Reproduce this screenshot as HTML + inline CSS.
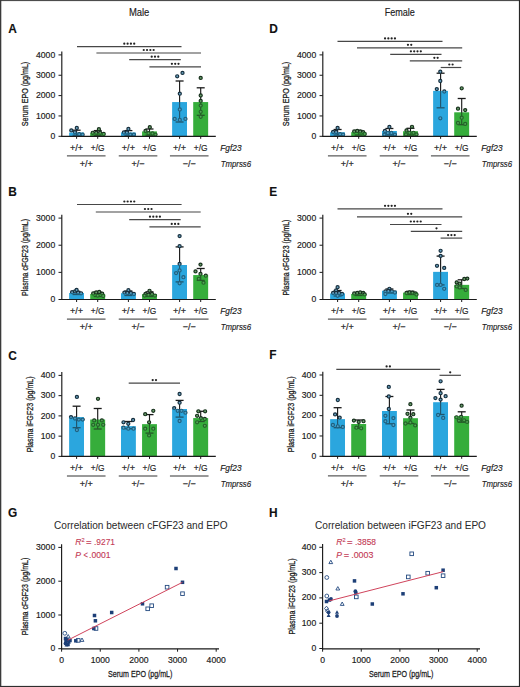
<!DOCTYPE html>
<html><head><meta charset="utf-8"><title>Figure</title>
<style>
html,body{margin:0;padding:0;background:#fff;}
body{width:520px;height:687px;overflow:hidden;}
svg{display:block;font-family:"Liberation Sans",sans-serif;}
</style></head>
<body>
<svg width="520" height="687" viewBox="0 0 520 687">
<rect x="0" y="0" width="520" height="687" fill="#fff"/>
<text x="8.2" y="32.6" font-size="11.9" fill="#111" stroke="#111" stroke-width="0.1" font-weight="bold">A</text>
<rect x="69.2" y="132.6" width="14.8" height="3.7" fill="#2ba6de"/>
<rect x="90.3" y="133" width="14.8" height="3.3" fill="#36ad3c"/>
<rect x="121" y="132.6" width="14.8" height="3.7" fill="#2ba6de"/>
<rect x="142.1" y="131.5" width="14.8" height="4.8" fill="#36ad3c"/>
<rect x="172.2" y="102.1" width="14.8" height="34.2" fill="#2ba6de"/>
<rect x="193.3" y="102.1" width="14.8" height="34.2" fill="#36ad3c"/>
<line x1="76.6" y1="130.2" x2="76.6" y2="135.2" stroke="#1a1a1a" stroke-width="1.15"/>
<line x1="72.6" y1="130.2" x2="80.6" y2="130.2" stroke="#1a1a1a" stroke-width="1.3"/>
<line x1="72.6" y1="135.2" x2="80.6" y2="135.2" stroke="#1a1a1a" stroke-width="1.3"/>
<circle cx="71.3" cy="130.4" r="1.55" fill="#6aa2c0" stroke="#172f3e" stroke-width="1.2"/>
<circle cx="76.8" cy="128" r="1.55" fill="#6aa2c0" stroke="#172f3e" stroke-width="1.2"/>
<circle cx="74.9" cy="132.3" r="1.55" fill="#6aa2c0" stroke="#172f3e" stroke-width="1.2"/>
<circle cx="79.2" cy="134.2" r="1.55" fill="#6aa2c0" stroke="#172f3e" stroke-width="1.2"/>
<circle cx="82.6" cy="134.7" r="1.55" fill="#6aa2c0" stroke="#172f3e" stroke-width="1.2"/>
<line x1="97.7" y1="130.6" x2="97.7" y2="135.4" stroke="#1a1a1a" stroke-width="1.15"/>
<line x1="93.7" y1="130.6" x2="101.7" y2="130.6" stroke="#1a1a1a" stroke-width="1.3"/>
<line x1="93.7" y1="135.4" x2="101.7" y2="135.4" stroke="#1a1a1a" stroke-width="1.3"/>
<circle cx="98.9" cy="129.2" r="1.55" fill="#6aa06c" stroke="#17301c" stroke-width="1.2"/>
<circle cx="92.7" cy="132.8" r="1.55" fill="#6aa06c" stroke="#17301c" stroke-width="1.2"/>
<circle cx="96.2" cy="132.8" r="1.55" fill="#6aa06c" stroke="#17301c" stroke-width="1.2"/>
<circle cx="100.2" cy="132.8" r="1.55" fill="#6aa06c" stroke="#17301c" stroke-width="1.2"/>
<circle cx="103.7" cy="134" r="1.55" fill="#6aa06c" stroke="#17301c" stroke-width="1.2"/>
<line x1="128.4" y1="130.6" x2="128.4" y2="135.2" stroke="#1a1a1a" stroke-width="1.15"/>
<line x1="124.4" y1="130.6" x2="132.4" y2="130.6" stroke="#1a1a1a" stroke-width="1.3"/>
<line x1="124.4" y1="135.2" x2="132.4" y2="135.2" stroke="#1a1a1a" stroke-width="1.3"/>
<circle cx="128.4" cy="129" r="1.55" fill="#6aa2c0" stroke="#172f3e" stroke-width="1.2"/>
<circle cx="123.9" cy="132.5" r="1.55" fill="#6aa2c0" stroke="#172f3e" stroke-width="1.2"/>
<circle cx="126.9" cy="132.5" r="1.55" fill="#6aa2c0" stroke="#172f3e" stroke-width="1.2"/>
<circle cx="130.4" cy="134.6" r="1.55" fill="#6aa2c0" stroke="#172f3e" stroke-width="1.2"/>
<circle cx="133.9" cy="134.6" r="1.55" fill="#6aa2c0" stroke="#172f3e" stroke-width="1.2"/>
<line x1="149.5" y1="129" x2="149.5" y2="135.2" stroke="#1a1a1a" stroke-width="1.15"/>
<line x1="145.5" y1="129" x2="153.5" y2="129" stroke="#1a1a1a" stroke-width="1.3"/>
<line x1="145.5" y1="135.2" x2="153.5" y2="135.2" stroke="#1a1a1a" stroke-width="1.3"/>
<circle cx="149.8" cy="127.2" r="1.55" fill="#6aa06c" stroke="#17301c" stroke-width="1.2"/>
<circle cx="145.5" cy="131" r="1.55" fill="#6aa06c" stroke="#17301c" stroke-width="1.2"/>
<circle cx="148.5" cy="133.2" r="1.55" fill="#6aa06c" stroke="#17301c" stroke-width="1.2"/>
<circle cx="152.5" cy="133.5" r="1.55" fill="#6aa06c" stroke="#17301c" stroke-width="1.2"/>
<circle cx="155.5" cy="134.6" r="1.55" fill="#6aa06c" stroke="#17301c" stroke-width="1.2"/>
<line x1="179.6" y1="81" x2="179.6" y2="122" stroke="#1a1a1a" stroke-width="1.15"/>
<line x1="175.6" y1="81" x2="183.6" y2="81" stroke="#1a1a1a" stroke-width="1.3"/>
<line x1="175.6" y1="122" x2="183.6" y2="122" stroke="#1a1a1a" stroke-width="1.3"/>
<circle cx="177.2" cy="76.3" r="1.55" fill="#6aa2c0" stroke="#172f3e" stroke-width="1.2"/>
<circle cx="182.5" cy="72.9" r="1.55" fill="#6aa2c0" stroke="#172f3e" stroke-width="1.2"/>
<circle cx="179.8" cy="93.7" r="1.55" fill="#6aa2c0" stroke="#172f3e" stroke-width="1.2"/>
<circle cx="179.8" cy="109.5" r="1.55" fill="#6aa2c0" stroke="#172f3e" stroke-width="1.2"/>
<circle cx="174.7" cy="118.9" r="1.55" fill="#6aa2c0" stroke="#172f3e" stroke-width="1.2"/>
<circle cx="179.8" cy="119.9" r="1.55" fill="#6aa2c0" stroke="#172f3e" stroke-width="1.2"/>
<circle cx="185.4" cy="118.9" r="1.55" fill="#6aa2c0" stroke="#172f3e" stroke-width="1.2"/>
<line x1="200.7" y1="87.8" x2="200.7" y2="115.3" stroke="#1a1a1a" stroke-width="1.15"/>
<line x1="196.7" y1="87.8" x2="204.7" y2="87.8" stroke="#1a1a1a" stroke-width="1.3"/>
<line x1="196.7" y1="115.3" x2="204.7" y2="115.3" stroke="#1a1a1a" stroke-width="1.3"/>
<circle cx="200.7" cy="77.9" r="1.55" fill="#6aa06c" stroke="#17301c" stroke-width="1.2"/>
<circle cx="200.7" cy="95.5" r="1.55" fill="#6aa06c" stroke="#17301c" stroke-width="1.2"/>
<circle cx="200.7" cy="101" r="1.55" fill="#6aa06c" stroke="#17301c" stroke-width="1.2"/>
<circle cx="200.7" cy="105.6" r="1.55" fill="#6aa06c" stroke="#17301c" stroke-width="1.2"/>
<circle cx="200.7" cy="111.8" r="1.55" fill="#6aa06c" stroke="#17301c" stroke-width="1.2"/>
<circle cx="200.7" cy="116.8" r="1.55" fill="#6aa06c" stroke="#17301c" stroke-width="1.2"/>
<rect x="69.2" y="132.6" width="14.8" height="3.7" fill="#2ba6de" fill-opacity="0.42"/>
<rect x="90.3" y="133" width="14.8" height="3.3" fill="#36ad3c" fill-opacity="0.42"/>
<rect x="121" y="132.6" width="14.8" height="3.7" fill="#2ba6de" fill-opacity="0.42"/>
<rect x="142.1" y="131.5" width="14.8" height="4.8" fill="#36ad3c" fill-opacity="0.42"/>
<rect x="172.2" y="102.1" width="14.8" height="34.2" fill="#2ba6de" fill-opacity="0.42"/>
<rect x="193.3" y="102.1" width="14.8" height="34.2" fill="#36ad3c" fill-opacity="0.42"/>
<line x1="61.8" y1="51.6" x2="61.8" y2="136.8" stroke="#1a1a1a" stroke-width="1.15"/>
<line x1="61.3" y1="136.3" x2="215.8" y2="136.3" stroke="#1a1a1a" stroke-width="1.15"/>
<line x1="58.5" y1="136.3" x2="61.8" y2="136.3" stroke="#1a1a1a" stroke-width="1"/>
<text x="55.2" y="139.1" font-size="8.2" fill="#1c1c1c" stroke="#1c1c1c" stroke-width="0.16" text-anchor="end" textLength="4.8" lengthAdjust="spacingAndGlyphs">0</text>
<line x1="58.5" y1="115.95" x2="61.8" y2="115.95" stroke="#1a1a1a" stroke-width="1"/>
<text x="55.2" y="118.75" font-size="8.2" fill="#1c1c1c" stroke="#1c1c1c" stroke-width="0.16" text-anchor="end" textLength="19.2" lengthAdjust="spacingAndGlyphs">1000</text>
<line x1="58.5" y1="95.6" x2="61.8" y2="95.6" stroke="#1a1a1a" stroke-width="1"/>
<text x="55.2" y="98.4" font-size="8.2" fill="#1c1c1c" stroke="#1c1c1c" stroke-width="0.16" text-anchor="end" textLength="19.2" lengthAdjust="spacingAndGlyphs">2000</text>
<line x1="58.5" y1="75.25" x2="61.8" y2="75.25" stroke="#1a1a1a" stroke-width="1"/>
<text x="55.2" y="78.05" font-size="8.2" fill="#1c1c1c" stroke="#1c1c1c" stroke-width="0.16" text-anchor="end" textLength="19.2" lengthAdjust="spacingAndGlyphs">3000</text>
<line x1="58.5" y1="54.9" x2="61.8" y2="54.9" stroke="#1a1a1a" stroke-width="1"/>
<text x="55.2" y="57.7" font-size="8.2" fill="#1c1c1c" stroke="#1c1c1c" stroke-width="0.16" text-anchor="end" textLength="19.2" lengthAdjust="spacingAndGlyphs">4000</text>
<line x1="76.6" y1="136.3" x2="76.6" y2="138.8" stroke="#1a1a1a" stroke-width="1"/>
<line x1="97.7" y1="136.3" x2="97.7" y2="138.8" stroke="#1a1a1a" stroke-width="1"/>
<line x1="128.4" y1="136.3" x2="128.4" y2="138.8" stroke="#1a1a1a" stroke-width="1"/>
<line x1="149.5" y1="136.3" x2="149.5" y2="138.8" stroke="#1a1a1a" stroke-width="1"/>
<line x1="179.6" y1="136.3" x2="179.6" y2="138.8" stroke="#1a1a1a" stroke-width="1"/>
<line x1="200.7" y1="136.3" x2="200.7" y2="138.8" stroke="#1a1a1a" stroke-width="1"/>
<text x="28.2" y="94" font-size="9" fill="#1c1c1c" stroke="#1c1c1c" stroke-width="0.28" text-anchor="middle" textLength="64.5" lengthAdjust="spacingAndGlyphs" transform="rotate(-90 28.2 94)">Serum EPO (pg/mL)</text>
<text x="76.6" y="150.6" font-size="9.2" fill="#1c1c1c" stroke="#1c1c1c" stroke-width="0.16" text-anchor="middle" textLength="13.2" lengthAdjust="spacingAndGlyphs">+/+</text>
<text x="97.7" y="150.6" font-size="9.2" fill="#1c1c1c" stroke="#1c1c1c" stroke-width="0.16" text-anchor="middle" textLength="13.8" lengthAdjust="spacingAndGlyphs">+/G</text>
<text x="128.4" y="150.6" font-size="9.2" fill="#1c1c1c" stroke="#1c1c1c" stroke-width="0.16" text-anchor="middle" textLength="13.2" lengthAdjust="spacingAndGlyphs">+/+</text>
<text x="149.5" y="150.6" font-size="9.2" fill="#1c1c1c" stroke="#1c1c1c" stroke-width="0.16" text-anchor="middle" textLength="13.8" lengthAdjust="spacingAndGlyphs">+/G</text>
<text x="179.6" y="150.6" font-size="9.2" fill="#1c1c1c" stroke="#1c1c1c" stroke-width="0.16" text-anchor="middle" textLength="13.2" lengthAdjust="spacingAndGlyphs">+/+</text>
<text x="200.7" y="150.6" font-size="9.2" fill="#1c1c1c" stroke="#1c1c1c" stroke-width="0.16" text-anchor="middle" textLength="13.8" lengthAdjust="spacingAndGlyphs">+/G</text>
<text x="220.3" y="150.6" font-size="8.8" fill="#1c1c1c" stroke="#1c1c1c" stroke-width="0.16" font-style="italic" textLength="21.2" lengthAdjust="spacingAndGlyphs">Fgf23</text>
<line x1="66.95" y1="155.9" x2="105.55" y2="155.9" stroke="#333" stroke-width="1"/>
<line x1="118.75" y1="155.9" x2="157.35" y2="155.9" stroke="#333" stroke-width="1"/>
<line x1="169.95" y1="155.9" x2="208.55" y2="155.9" stroke="#333" stroke-width="1"/>
<text x="86.25" y="166.6" font-size="9.2" fill="#1c1c1c" stroke="#1c1c1c" stroke-width="0.16" text-anchor="middle" textLength="13.2" lengthAdjust="spacingAndGlyphs">+/+</text>
<text x="138.05" y="166.6" font-size="9.2" fill="#1c1c1c" stroke="#1c1c1c" stroke-width="0.16" text-anchor="middle" textLength="13.2" lengthAdjust="spacingAndGlyphs">+/−</text>
<text x="189.25" y="166.6" font-size="9.2" fill="#1c1c1c" stroke="#1c1c1c" stroke-width="0.16" text-anchor="middle" textLength="13.2" lengthAdjust="spacingAndGlyphs">−/−</text>
<text x="220.7" y="166.6" font-size="8.8" fill="#1c1c1c" stroke="#1c1c1c" stroke-width="0.16" font-style="italic" textLength="30.4" lengthAdjust="spacingAndGlyphs">Tmprss6</text>
<line x1="77" y1="46.7" x2="181.5" y2="46.7" stroke="#474747" stroke-width="1.2"/>
<circle cx="124.3" cy="43.7" r="1.12" fill="#222"/>
<circle cx="127.6" cy="43.7" r="1.12" fill="#222"/>
<circle cx="130.9" cy="43.7" r="1.12" fill="#222"/>
<circle cx="134.2" cy="43.7" r="1.12" fill="#222"/>
<line x1="96.4" y1="53" x2="201" y2="53" stroke="#474747" stroke-width="1.2"/>
<circle cx="143.75" cy="50" r="1.12" fill="#222"/>
<circle cx="147.05" cy="50" r="1.12" fill="#222"/>
<circle cx="150.35" cy="50" r="1.12" fill="#222"/>
<circle cx="153.65" cy="50" r="1.12" fill="#222"/>
<line x1="129.2" y1="59.7" x2="180.8" y2="59.7" stroke="#474747" stroke-width="1.2"/>
<circle cx="151.7" cy="56.7" r="1.12" fill="#222"/>
<circle cx="155" cy="56.7" r="1.12" fill="#222"/>
<circle cx="158.3" cy="56.7" r="1.12" fill="#222"/>
<line x1="149.4" y1="66.8" x2="201" y2="66.8" stroke="#474747" stroke-width="1.2"/>
<circle cx="171.9" cy="63.8" r="1.12" fill="#222"/>
<circle cx="175.2" cy="63.8" r="1.12" fill="#222"/>
<circle cx="178.5" cy="63.8" r="1.12" fill="#222"/>
<text x="269.2" y="32.6" font-size="11.9" fill="#111" stroke="#111" stroke-width="0.1" font-weight="bold">D</text>
<rect x="330.2" y="132.4" width="14.8" height="3.9" fill="#2ba6de"/>
<rect x="351.3" y="132.2" width="14.8" height="4.1" fill="#36ad3c"/>
<rect x="382" y="131" width="14.8" height="5.3" fill="#2ba6de"/>
<rect x="403.1" y="131.3" width="14.8" height="5" fill="#36ad3c"/>
<rect x="433.2" y="90.9" width="14.8" height="45.4" fill="#2ba6de"/>
<rect x="454.3" y="112.4" width="14.8" height="23.9" fill="#36ad3c"/>
<line x1="337.6" y1="129.5" x2="337.6" y2="135" stroke="#1a1a1a" stroke-width="1.15"/>
<line x1="333.6" y1="129.5" x2="341.6" y2="129.5" stroke="#1a1a1a" stroke-width="1.3"/>
<line x1="333.6" y1="135" x2="341.6" y2="135" stroke="#1a1a1a" stroke-width="1.3"/>
<circle cx="337.6" cy="128" r="1.55" fill="#6aa2c0" stroke="#172f3e" stroke-width="1.2"/>
<circle cx="333.1" cy="132" r="1.55" fill="#6aa2c0" stroke="#172f3e" stroke-width="1.2"/>
<circle cx="336.1" cy="132" r="1.55" fill="#6aa2c0" stroke="#172f3e" stroke-width="1.2"/>
<circle cx="340.1" cy="134.2" r="1.55" fill="#6aa2c0" stroke="#172f3e" stroke-width="1.2"/>
<circle cx="343.1" cy="134.6" r="1.55" fill="#6aa2c0" stroke="#172f3e" stroke-width="1.2"/>
<line x1="358.7" y1="130.5" x2="358.7" y2="135" stroke="#1a1a1a" stroke-width="1.15"/>
<line x1="354.7" y1="130.5" x2="362.7" y2="130.5" stroke="#1a1a1a" stroke-width="1.3"/>
<line x1="354.7" y1="135" x2="362.7" y2="135" stroke="#1a1a1a" stroke-width="1.3"/>
<circle cx="354.2" cy="131.5" r="1.55" fill="#6aa06c" stroke="#17301c" stroke-width="1.2"/>
<circle cx="357.2" cy="131" r="1.55" fill="#6aa06c" stroke="#17301c" stroke-width="1.2"/>
<circle cx="360.2" cy="131.5" r="1.55" fill="#6aa06c" stroke="#17301c" stroke-width="1.2"/>
<circle cx="363.2" cy="132.2" r="1.55" fill="#6aa06c" stroke="#17301c" stroke-width="1.2"/>
<circle cx="364.7" cy="134" r="1.55" fill="#6aa06c" stroke="#17301c" stroke-width="1.2"/>
<line x1="389.4" y1="128.5" x2="389.4" y2="135" stroke="#1a1a1a" stroke-width="1.15"/>
<line x1="385.4" y1="128.5" x2="393.4" y2="128.5" stroke="#1a1a1a" stroke-width="1.3"/>
<line x1="385.4" y1="135" x2="393.4" y2="135" stroke="#1a1a1a" stroke-width="1.3"/>
<circle cx="389.4" cy="127" r="1.55" fill="#6aa2c0" stroke="#172f3e" stroke-width="1.2"/>
<circle cx="384.9" cy="131" r="1.55" fill="#6aa2c0" stroke="#172f3e" stroke-width="1.2"/>
<circle cx="387.9" cy="133" r="1.55" fill="#6aa2c0" stroke="#172f3e" stroke-width="1.2"/>
<circle cx="391.4" cy="133" r="1.55" fill="#6aa2c0" stroke="#172f3e" stroke-width="1.2"/>
<circle cx="394.9" cy="134.6" r="1.55" fill="#6aa2c0" stroke="#172f3e" stroke-width="1.2"/>
<circle cx="384.4" cy="134.6" r="1.55" fill="#6aa2c0" stroke="#172f3e" stroke-width="1.2"/>
<line x1="410.5" y1="128.3" x2="410.5" y2="135" stroke="#1a1a1a" stroke-width="1.15"/>
<line x1="406.5" y1="128.3" x2="414.5" y2="128.3" stroke="#1a1a1a" stroke-width="1.3"/>
<line x1="406.5" y1="135" x2="414.5" y2="135" stroke="#1a1a1a" stroke-width="1.3"/>
<circle cx="412" cy="126.8" r="1.55" fill="#6aa06c" stroke="#17301c" stroke-width="1.2"/>
<circle cx="406.5" cy="130.5" r="1.55" fill="#6aa06c" stroke="#17301c" stroke-width="1.2"/>
<circle cx="409.5" cy="132.8" r="1.55" fill="#6aa06c" stroke="#17301c" stroke-width="1.2"/>
<circle cx="413.5" cy="132.8" r="1.55" fill="#6aa06c" stroke="#17301c" stroke-width="1.2"/>
<circle cx="416.5" cy="134.4" r="1.55" fill="#6aa06c" stroke="#17301c" stroke-width="1.2"/>
<circle cx="406" cy="134.4" r="1.55" fill="#6aa06c" stroke="#17301c" stroke-width="1.2"/>
<line x1="440.6" y1="73.2" x2="440.6" y2="107.8" stroke="#1a1a1a" stroke-width="1.15"/>
<line x1="436.6" y1="73.2" x2="444.6" y2="73.2" stroke="#1a1a1a" stroke-width="1.3"/>
<line x1="436.6" y1="107.8" x2="444.6" y2="107.8" stroke="#1a1a1a" stroke-width="1.3"/>
<circle cx="440.3" cy="71.7" r="1.55" fill="#6aa2c0" stroke="#172f3e" stroke-width="1.2"/>
<circle cx="440.3" cy="81" r="1.55" fill="#6aa2c0" stroke="#172f3e" stroke-width="1.2"/>
<circle cx="436.8" cy="89.1" r="1.55" fill="#6aa2c0" stroke="#172f3e" stroke-width="1.2"/>
<circle cx="444.3" cy="91.5" r="1.55" fill="#6aa2c0" stroke="#172f3e" stroke-width="1.2"/>
<circle cx="440.3" cy="118.3" r="1.55" fill="#6aa2c0" stroke="#172f3e" stroke-width="1.2"/>
<line x1="461.7" y1="98.5" x2="461.7" y2="124.7" stroke="#1a1a1a" stroke-width="1.15"/>
<line x1="457.7" y1="98.5" x2="465.7" y2="98.5" stroke="#1a1a1a" stroke-width="1.3"/>
<line x1="457.7" y1="124.7" x2="465.7" y2="124.7" stroke="#1a1a1a" stroke-width="1.3"/>
<circle cx="461.7" cy="88.3" r="1.55" fill="#6aa06c" stroke="#17301c" stroke-width="1.2"/>
<circle cx="458" cy="108.7" r="1.55" fill="#6aa06c" stroke="#17301c" stroke-width="1.2"/>
<circle cx="465.2" cy="110.1" r="1.55" fill="#6aa06c" stroke="#17301c" stroke-width="1.2"/>
<circle cx="461.7" cy="117.7" r="1.55" fill="#6aa06c" stroke="#17301c" stroke-width="1.2"/>
<circle cx="458" cy="122.9" r="1.55" fill="#6aa06c" stroke="#17301c" stroke-width="1.2"/>
<circle cx="465.2" cy="123.9" r="1.55" fill="#6aa06c" stroke="#17301c" stroke-width="1.2"/>
<rect x="330.2" y="132.4" width="14.8" height="3.9" fill="#2ba6de" fill-opacity="0.42"/>
<rect x="351.3" y="132.2" width="14.8" height="4.1" fill="#36ad3c" fill-opacity="0.42"/>
<rect x="382" y="131" width="14.8" height="5.3" fill="#2ba6de" fill-opacity="0.42"/>
<rect x="403.1" y="131.3" width="14.8" height="5" fill="#36ad3c" fill-opacity="0.42"/>
<rect x="433.2" y="90.9" width="14.8" height="45.4" fill="#2ba6de" fill-opacity="0.42"/>
<rect x="454.3" y="112.4" width="14.8" height="23.9" fill="#36ad3c" fill-opacity="0.42"/>
<line x1="322.8" y1="51.6" x2="322.8" y2="136.8" stroke="#1a1a1a" stroke-width="1.15"/>
<line x1="322.3" y1="136.3" x2="476.8" y2="136.3" stroke="#1a1a1a" stroke-width="1.15"/>
<line x1="319.5" y1="136.3" x2="322.8" y2="136.3" stroke="#1a1a1a" stroke-width="1"/>
<text x="316.2" y="139.1" font-size="8.2" fill="#1c1c1c" stroke="#1c1c1c" stroke-width="0.16" text-anchor="end" textLength="4.8" lengthAdjust="spacingAndGlyphs">0</text>
<line x1="319.5" y1="115.95" x2="322.8" y2="115.95" stroke="#1a1a1a" stroke-width="1"/>
<text x="316.2" y="118.75" font-size="8.2" fill="#1c1c1c" stroke="#1c1c1c" stroke-width="0.16" text-anchor="end" textLength="19.2" lengthAdjust="spacingAndGlyphs">1000</text>
<line x1="319.5" y1="95.6" x2="322.8" y2="95.6" stroke="#1a1a1a" stroke-width="1"/>
<text x="316.2" y="98.4" font-size="8.2" fill="#1c1c1c" stroke="#1c1c1c" stroke-width="0.16" text-anchor="end" textLength="19.2" lengthAdjust="spacingAndGlyphs">2000</text>
<line x1="319.5" y1="75.25" x2="322.8" y2="75.25" stroke="#1a1a1a" stroke-width="1"/>
<text x="316.2" y="78.05" font-size="8.2" fill="#1c1c1c" stroke="#1c1c1c" stroke-width="0.16" text-anchor="end" textLength="19.2" lengthAdjust="spacingAndGlyphs">3000</text>
<line x1="319.5" y1="54.9" x2="322.8" y2="54.9" stroke="#1a1a1a" stroke-width="1"/>
<text x="316.2" y="57.7" font-size="8.2" fill="#1c1c1c" stroke="#1c1c1c" stroke-width="0.16" text-anchor="end" textLength="19.2" lengthAdjust="spacingAndGlyphs">4000</text>
<line x1="337.6" y1="136.3" x2="337.6" y2="138.8" stroke="#1a1a1a" stroke-width="1"/>
<line x1="358.7" y1="136.3" x2="358.7" y2="138.8" stroke="#1a1a1a" stroke-width="1"/>
<line x1="389.4" y1="136.3" x2="389.4" y2="138.8" stroke="#1a1a1a" stroke-width="1"/>
<line x1="410.5" y1="136.3" x2="410.5" y2="138.8" stroke="#1a1a1a" stroke-width="1"/>
<line x1="440.6" y1="136.3" x2="440.6" y2="138.8" stroke="#1a1a1a" stroke-width="1"/>
<line x1="461.7" y1="136.3" x2="461.7" y2="138.8" stroke="#1a1a1a" stroke-width="1"/>
<text x="288.6" y="94" font-size="9" fill="#1c1c1c" stroke="#1c1c1c" stroke-width="0.28" text-anchor="middle" textLength="64.5" lengthAdjust="spacingAndGlyphs" transform="rotate(-90 288.6 94)">Serum EPO (pg/mL)</text>
<text x="337.6" y="150.6" font-size="9.2" fill="#1c1c1c" stroke="#1c1c1c" stroke-width="0.16" text-anchor="middle" textLength="13.2" lengthAdjust="spacingAndGlyphs">+/+</text>
<text x="358.7" y="150.6" font-size="9.2" fill="#1c1c1c" stroke="#1c1c1c" stroke-width="0.16" text-anchor="middle" textLength="13.8" lengthAdjust="spacingAndGlyphs">+/G</text>
<text x="389.4" y="150.6" font-size="9.2" fill="#1c1c1c" stroke="#1c1c1c" stroke-width="0.16" text-anchor="middle" textLength="13.2" lengthAdjust="spacingAndGlyphs">+/+</text>
<text x="410.5" y="150.6" font-size="9.2" fill="#1c1c1c" stroke="#1c1c1c" stroke-width="0.16" text-anchor="middle" textLength="13.8" lengthAdjust="spacingAndGlyphs">+/G</text>
<text x="440.6" y="150.6" font-size="9.2" fill="#1c1c1c" stroke="#1c1c1c" stroke-width="0.16" text-anchor="middle" textLength="13.2" lengthAdjust="spacingAndGlyphs">+/+</text>
<text x="461.7" y="150.6" font-size="9.2" fill="#1c1c1c" stroke="#1c1c1c" stroke-width="0.16" text-anchor="middle" textLength="13.8" lengthAdjust="spacingAndGlyphs">+/G</text>
<text x="481.3" y="150.6" font-size="8.8" fill="#1c1c1c" stroke="#1c1c1c" stroke-width="0.16" font-style="italic" textLength="21.2" lengthAdjust="spacingAndGlyphs">Fgf23</text>
<line x1="327.95" y1="155.9" x2="366.55" y2="155.9" stroke="#333" stroke-width="1"/>
<line x1="379.75" y1="155.9" x2="418.35" y2="155.9" stroke="#333" stroke-width="1"/>
<line x1="430.95" y1="155.9" x2="469.55" y2="155.9" stroke="#333" stroke-width="1"/>
<text x="347.25" y="166.6" font-size="9.2" fill="#1c1c1c" stroke="#1c1c1c" stroke-width="0.16" text-anchor="middle" textLength="13.2" lengthAdjust="spacingAndGlyphs">+/+</text>
<text x="399.05" y="166.6" font-size="9.2" fill="#1c1c1c" stroke="#1c1c1c" stroke-width="0.16" text-anchor="middle" textLength="13.2" lengthAdjust="spacingAndGlyphs">+/−</text>
<text x="450.25" y="166.6" font-size="9.2" fill="#1c1c1c" stroke="#1c1c1c" stroke-width="0.16" text-anchor="middle" textLength="13.2" lengthAdjust="spacingAndGlyphs">−/−</text>
<text x="481.7" y="166.6" font-size="8.8" fill="#1c1c1c" stroke="#1c1c1c" stroke-width="0.16" font-style="italic" textLength="30.4" lengthAdjust="spacingAndGlyphs">Tmprss6</text>
<line x1="337.5" y1="41.4" x2="442.5" y2="41.4" stroke="#474747" stroke-width="1.2"/>
<circle cx="385.05" cy="38.4" r="1.12" fill="#222"/>
<circle cx="388.35" cy="38.4" r="1.12" fill="#222"/>
<circle cx="391.65" cy="38.4" r="1.12" fill="#222"/>
<circle cx="394.95" cy="38.4" r="1.12" fill="#222"/>
<line x1="357" y1="47.8" x2="462.2" y2="47.8" stroke="#474747" stroke-width="1.2"/>
<circle cx="407.95" cy="44.8" r="1.12" fill="#222"/>
<circle cx="411.25" cy="44.8" r="1.12" fill="#222"/>
<line x1="390.2" y1="54.3" x2="441.5" y2="54.3" stroke="#474747" stroke-width="1.2"/>
<circle cx="410.9" cy="51.3" r="1.12" fill="#222"/>
<circle cx="414.2" cy="51.3" r="1.12" fill="#222"/>
<circle cx="417.5" cy="51.3" r="1.12" fill="#222"/>
<circle cx="420.8" cy="51.3" r="1.12" fill="#222"/>
<line x1="409.8" y1="60.8" x2="462.2" y2="60.8" stroke="#474747" stroke-width="1.2"/>
<circle cx="434.35" cy="57.8" r="1.12" fill="#222"/>
<circle cx="437.65" cy="57.8" r="1.12" fill="#222"/>
<line x1="440.7" y1="67.5" x2="461.2" y2="67.5" stroke="#474747" stroke-width="1.2"/>
<circle cx="449.3" cy="64.5" r="1.12" fill="#222"/>
<circle cx="452.6" cy="64.5" r="1.12" fill="#222"/>
<text x="8.2" y="195.7" font-size="11.9" fill="#111" stroke="#111" stroke-width="0.1" font-weight="bold">B</text>
<rect x="69.2" y="293" width="14.8" height="6.5" fill="#2ba6de"/>
<rect x="90.3" y="294" width="14.8" height="5.5" fill="#36ad3c"/>
<rect x="121" y="293.3" width="14.8" height="6.2" fill="#2ba6de"/>
<rect x="142.1" y="294.2" width="14.8" height="5.3" fill="#36ad3c"/>
<rect x="172.2" y="265" width="14.8" height="34.5" fill="#2ba6de"/>
<rect x="193.3" y="275.1" width="14.8" height="24.4" fill="#36ad3c"/>
<line x1="76.6" y1="291.5" x2="76.6" y2="294.5" stroke="#1a1a1a" stroke-width="1.15"/>
<line x1="72.6" y1="291.5" x2="80.6" y2="291.5" stroke="#1a1a1a" stroke-width="1.3"/>
<line x1="72.6" y1="294.5" x2="80.6" y2="294.5" stroke="#1a1a1a" stroke-width="1.3"/>
<circle cx="72.1" cy="292.2" r="1.55" fill="#6aa2c0" stroke="#172f3e" stroke-width="1.2"/>
<circle cx="75.1" cy="291.5" r="1.55" fill="#6aa2c0" stroke="#172f3e" stroke-width="1.2"/>
<circle cx="78.1" cy="292.5" r="1.55" fill="#6aa2c0" stroke="#172f3e" stroke-width="1.2"/>
<circle cx="81.1" cy="293.3" r="1.55" fill="#6aa2c0" stroke="#172f3e" stroke-width="1.2"/>
<circle cx="76.6" cy="290" r="1.55" fill="#6aa2c0" stroke="#172f3e" stroke-width="1.2"/>
<line x1="97.7" y1="292" x2="97.7" y2="296.5" stroke="#1a1a1a" stroke-width="1.15"/>
<line x1="93.7" y1="292" x2="101.7" y2="292" stroke="#1a1a1a" stroke-width="1.3"/>
<line x1="93.7" y1="296.5" x2="101.7" y2="296.5" stroke="#1a1a1a" stroke-width="1.3"/>
<circle cx="93.2" cy="293.5" r="1.55" fill="#6aa06c" stroke="#17301c" stroke-width="1.2"/>
<circle cx="96.2" cy="292.5" r="1.55" fill="#6aa06c" stroke="#17301c" stroke-width="1.2"/>
<circle cx="99.2" cy="292" r="1.55" fill="#6aa06c" stroke="#17301c" stroke-width="1.2"/>
<circle cx="102.2" cy="293.6" r="1.55" fill="#6aa06c" stroke="#17301c" stroke-width="1.2"/>
<circle cx="97.7" cy="295.6" r="1.55" fill="#6aa06c" stroke="#17301c" stroke-width="1.2"/>
<circle cx="103.2" cy="296" r="1.55" fill="#6aa06c" stroke="#17301c" stroke-width="1.2"/>
<line x1="128.4" y1="291" x2="128.4" y2="295.5" stroke="#1a1a1a" stroke-width="1.15"/>
<line x1="124.4" y1="291" x2="132.4" y2="291" stroke="#1a1a1a" stroke-width="1.3"/>
<line x1="124.4" y1="295.5" x2="132.4" y2="295.5" stroke="#1a1a1a" stroke-width="1.3"/>
<circle cx="128.4" cy="290.2" r="1.55" fill="#6aa2c0" stroke="#172f3e" stroke-width="1.2"/>
<circle cx="124.4" cy="292.6" r="1.55" fill="#6aa2c0" stroke="#172f3e" stroke-width="1.2"/>
<circle cx="127.4" cy="293" r="1.55" fill="#6aa2c0" stroke="#172f3e" stroke-width="1.2"/>
<circle cx="130.9" cy="293" r="1.55" fill="#6aa2c0" stroke="#172f3e" stroke-width="1.2"/>
<circle cx="133.9" cy="294" r="1.55" fill="#6aa2c0" stroke="#172f3e" stroke-width="1.2"/>
<line x1="149.5" y1="291.8" x2="149.5" y2="296.5" stroke="#1a1a1a" stroke-width="1.15"/>
<line x1="145.5" y1="291.8" x2="153.5" y2="291.8" stroke="#1a1a1a" stroke-width="1.3"/>
<line x1="145.5" y1="296.5" x2="153.5" y2="296.5" stroke="#1a1a1a" stroke-width="1.3"/>
<circle cx="149.5" cy="290.8" r="1.55" fill="#6aa06c" stroke="#17301c" stroke-width="1.2"/>
<circle cx="145.5" cy="294" r="1.55" fill="#6aa06c" stroke="#17301c" stroke-width="1.2"/>
<circle cx="148.5" cy="294.7" r="1.55" fill="#6aa06c" stroke="#17301c" stroke-width="1.2"/>
<circle cx="152" cy="294" r="1.55" fill="#6aa06c" stroke="#17301c" stroke-width="1.2"/>
<circle cx="155" cy="295.6" r="1.55" fill="#6aa06c" stroke="#17301c" stroke-width="1.2"/>
<circle cx="144.5" cy="295.6" r="1.55" fill="#6aa06c" stroke="#17301c" stroke-width="1.2"/>
<line x1="179.6" y1="246.9" x2="179.6" y2="281.9" stroke="#1a1a1a" stroke-width="1.15"/>
<line x1="175.6" y1="246.9" x2="183.6" y2="246.9" stroke="#1a1a1a" stroke-width="1.3"/>
<line x1="175.6" y1="281.9" x2="183.6" y2="281.9" stroke="#1a1a1a" stroke-width="1.3"/>
<circle cx="179.6" cy="236.1" r="1.55" fill="#6aa2c0" stroke="#172f3e" stroke-width="1.2"/>
<circle cx="179.6" cy="246.2" r="1.55" fill="#6aa2c0" stroke="#172f3e" stroke-width="1.2"/>
<circle cx="179.6" cy="264" r="1.55" fill="#6aa2c0" stroke="#172f3e" stroke-width="1.2"/>
<circle cx="179.6" cy="270.5" r="1.55" fill="#6aa2c0" stroke="#172f3e" stroke-width="1.2"/>
<circle cx="176.1" cy="273.1" r="1.55" fill="#6aa2c0" stroke="#172f3e" stroke-width="1.2"/>
<circle cx="183.4" cy="277.2" r="1.55" fill="#6aa2c0" stroke="#172f3e" stroke-width="1.2"/>
<circle cx="179.6" cy="283.3" r="1.55" fill="#6aa2c0" stroke="#172f3e" stroke-width="1.2"/>
<line x1="200.7" y1="268.5" x2="200.7" y2="280.4" stroke="#1a1a1a" stroke-width="1.15"/>
<line x1="196.7" y1="268.5" x2="204.7" y2="268.5" stroke="#1a1a1a" stroke-width="1.3"/>
<line x1="196.7" y1="280.4" x2="204.7" y2="280.4" stroke="#1a1a1a" stroke-width="1.3"/>
<circle cx="200.5" cy="264.6" r="1.55" fill="#6aa06c" stroke="#17301c" stroke-width="1.2"/>
<circle cx="195.5" cy="271.4" r="1.55" fill="#6aa06c" stroke="#17301c" stroke-width="1.2"/>
<circle cx="200.5" cy="274" r="1.55" fill="#6aa06c" stroke="#17301c" stroke-width="1.2"/>
<circle cx="205.8" cy="275.7" r="1.55" fill="#6aa06c" stroke="#17301c" stroke-width="1.2"/>
<circle cx="198.8" cy="278.8" r="1.55" fill="#6aa06c" stroke="#17301c" stroke-width="1.2"/>
<circle cx="203.5" cy="282.7" r="1.55" fill="#6aa06c" stroke="#17301c" stroke-width="1.2"/>
<rect x="69.2" y="293" width="14.8" height="6.5" fill="#2ba6de" fill-opacity="0.42"/>
<rect x="90.3" y="294" width="14.8" height="5.5" fill="#36ad3c" fill-opacity="0.42"/>
<rect x="121" y="293.3" width="14.8" height="6.2" fill="#2ba6de" fill-opacity="0.42"/>
<rect x="142.1" y="294.2" width="14.8" height="5.3" fill="#36ad3c" fill-opacity="0.42"/>
<rect x="172.2" y="265" width="14.8" height="34.5" fill="#2ba6de" fill-opacity="0.42"/>
<rect x="193.3" y="275.1" width="14.8" height="24.4" fill="#36ad3c" fill-opacity="0.42"/>
<line x1="61.8" y1="214.8" x2="61.8" y2="300" stroke="#1a1a1a" stroke-width="1.15"/>
<line x1="61.3" y1="299.5" x2="215.8" y2="299.5" stroke="#1a1a1a" stroke-width="1.15"/>
<line x1="58.5" y1="299.5" x2="61.8" y2="299.5" stroke="#1a1a1a" stroke-width="1"/>
<text x="55.2" y="302.3" font-size="8.2" fill="#1c1c1c" stroke="#1c1c1c" stroke-width="0.16" text-anchor="end" textLength="4.8" lengthAdjust="spacingAndGlyphs">0</text>
<line x1="58.5" y1="272.37" x2="61.8" y2="272.37" stroke="#1a1a1a" stroke-width="1"/>
<text x="55.2" y="275.17" font-size="8.2" fill="#1c1c1c" stroke="#1c1c1c" stroke-width="0.16" text-anchor="end" textLength="19.2" lengthAdjust="spacingAndGlyphs">1000</text>
<line x1="58.5" y1="245.23" x2="61.8" y2="245.23" stroke="#1a1a1a" stroke-width="1"/>
<text x="55.2" y="248.03" font-size="8.2" fill="#1c1c1c" stroke="#1c1c1c" stroke-width="0.16" text-anchor="end" textLength="19.2" lengthAdjust="spacingAndGlyphs">2000</text>
<line x1="58.5" y1="218.1" x2="61.8" y2="218.1" stroke="#1a1a1a" stroke-width="1"/>
<text x="55.2" y="220.9" font-size="8.2" fill="#1c1c1c" stroke="#1c1c1c" stroke-width="0.16" text-anchor="end" textLength="19.2" lengthAdjust="spacingAndGlyphs">3000</text>
<line x1="76.6" y1="299.5" x2="76.6" y2="302" stroke="#1a1a1a" stroke-width="1"/>
<line x1="97.7" y1="299.5" x2="97.7" y2="302" stroke="#1a1a1a" stroke-width="1"/>
<line x1="128.4" y1="299.5" x2="128.4" y2="302" stroke="#1a1a1a" stroke-width="1"/>
<line x1="149.5" y1="299.5" x2="149.5" y2="302" stroke="#1a1a1a" stroke-width="1"/>
<line x1="179.6" y1="299.5" x2="179.6" y2="302" stroke="#1a1a1a" stroke-width="1"/>
<line x1="200.7" y1="299.5" x2="200.7" y2="302" stroke="#1a1a1a" stroke-width="1"/>
<text x="28.2" y="257.5" font-size="9" fill="#1c1c1c" stroke="#1c1c1c" stroke-width="0.28" text-anchor="middle" textLength="77" lengthAdjust="spacingAndGlyphs" transform="rotate(-90 28.2 257.5)">Plasma cFGF23 (pg/mL)</text>
<text x="76.6" y="313.8" font-size="9.2" fill="#1c1c1c" stroke="#1c1c1c" stroke-width="0.16" text-anchor="middle" textLength="13.2" lengthAdjust="spacingAndGlyphs">+/+</text>
<text x="97.7" y="313.8" font-size="9.2" fill="#1c1c1c" stroke="#1c1c1c" stroke-width="0.16" text-anchor="middle" textLength="13.8" lengthAdjust="spacingAndGlyphs">+/G</text>
<text x="128.4" y="313.8" font-size="9.2" fill="#1c1c1c" stroke="#1c1c1c" stroke-width="0.16" text-anchor="middle" textLength="13.2" lengthAdjust="spacingAndGlyphs">+/+</text>
<text x="149.5" y="313.8" font-size="9.2" fill="#1c1c1c" stroke="#1c1c1c" stroke-width="0.16" text-anchor="middle" textLength="13.8" lengthAdjust="spacingAndGlyphs">+/G</text>
<text x="179.6" y="313.8" font-size="9.2" fill="#1c1c1c" stroke="#1c1c1c" stroke-width="0.16" text-anchor="middle" textLength="13.2" lengthAdjust="spacingAndGlyphs">+/+</text>
<text x="200.7" y="313.8" font-size="9.2" fill="#1c1c1c" stroke="#1c1c1c" stroke-width="0.16" text-anchor="middle" textLength="13.8" lengthAdjust="spacingAndGlyphs">+/G</text>
<text x="220.3" y="313.8" font-size="8.8" fill="#1c1c1c" stroke="#1c1c1c" stroke-width="0.16" font-style="italic" textLength="21.2" lengthAdjust="spacingAndGlyphs">Fgf23</text>
<line x1="66.95" y1="319.1" x2="105.55" y2="319.1" stroke="#333" stroke-width="1"/>
<line x1="118.75" y1="319.1" x2="157.35" y2="319.1" stroke="#333" stroke-width="1"/>
<line x1="169.95" y1="319.1" x2="208.55" y2="319.1" stroke="#333" stroke-width="1"/>
<text x="86.25" y="329.8" font-size="9.2" fill="#1c1c1c" stroke="#1c1c1c" stroke-width="0.16" text-anchor="middle" textLength="13.2" lengthAdjust="spacingAndGlyphs">+/+</text>
<text x="138.05" y="329.8" font-size="9.2" fill="#1c1c1c" stroke="#1c1c1c" stroke-width="0.16" text-anchor="middle" textLength="13.2" lengthAdjust="spacingAndGlyphs">+/−</text>
<text x="189.25" y="329.8" font-size="9.2" fill="#1c1c1c" stroke="#1c1c1c" stroke-width="0.16" text-anchor="middle" textLength="13.2" lengthAdjust="spacingAndGlyphs">−/−</text>
<text x="220.7" y="329.8" font-size="8.8" fill="#1c1c1c" stroke="#1c1c1c" stroke-width="0.16" font-style="italic" textLength="30.4" lengthAdjust="spacingAndGlyphs">Tmprss6</text>
<line x1="77" y1="204.5" x2="181.6" y2="204.5" stroke="#474747" stroke-width="1.2"/>
<circle cx="124.35" cy="201.5" r="1.12" fill="#222"/>
<circle cx="127.65" cy="201.5" r="1.12" fill="#222"/>
<circle cx="130.95" cy="201.5" r="1.12" fill="#222"/>
<circle cx="134.25" cy="201.5" r="1.12" fill="#222"/>
<line x1="95.8" y1="212" x2="200.7" y2="212" stroke="#474747" stroke-width="1.2"/>
<circle cx="144.95" cy="209" r="1.12" fill="#222"/>
<circle cx="148.25" cy="209" r="1.12" fill="#222"/>
<circle cx="151.55" cy="209" r="1.12" fill="#222"/>
<line x1="129.2" y1="219.7" x2="180.7" y2="219.7" stroke="#474747" stroke-width="1.2"/>
<circle cx="150" cy="216.7" r="1.12" fill="#222"/>
<circle cx="153.3" cy="216.7" r="1.12" fill="#222"/>
<circle cx="156.6" cy="216.7" r="1.12" fill="#222"/>
<circle cx="159.9" cy="216.7" r="1.12" fill="#222"/>
<line x1="149.4" y1="226.9" x2="200.7" y2="226.9" stroke="#474747" stroke-width="1.2"/>
<circle cx="171.75" cy="223.9" r="1.12" fill="#222"/>
<circle cx="175.05" cy="223.9" r="1.12" fill="#222"/>
<circle cx="178.35" cy="223.9" r="1.12" fill="#222"/>
<text x="269.2" y="195.9" font-size="11.9" fill="#111" stroke="#111" stroke-width="0.1" font-weight="bold">E</text>
<rect x="330.2" y="293.5" width="14.8" height="6" fill="#2ba6de"/>
<rect x="351.3" y="294" width="14.8" height="5.5" fill="#36ad3c"/>
<rect x="382" y="290.8" width="14.8" height="8.7" fill="#2ba6de"/>
<rect x="403.1" y="292.7" width="14.8" height="6.8" fill="#36ad3c"/>
<rect x="433.2" y="271.9" width="14.8" height="27.6" fill="#2ba6de"/>
<rect x="454.3" y="284.9" width="14.8" height="14.6" fill="#36ad3c"/>
<line x1="337.6" y1="290.5" x2="337.6" y2="296" stroke="#1a1a1a" stroke-width="1.15"/>
<line x1="333.6" y1="290.5" x2="341.6" y2="290.5" stroke="#1a1a1a" stroke-width="1.3"/>
<line x1="333.6" y1="296" x2="341.6" y2="296" stroke="#1a1a1a" stroke-width="1.3"/>
<circle cx="337.6" cy="287.2" r="1.55" fill="#6aa2c0" stroke="#172f3e" stroke-width="1.2"/>
<circle cx="336.1" cy="290.5" r="1.55" fill="#6aa2c0" stroke="#172f3e" stroke-width="1.2"/>
<circle cx="333.1" cy="293" r="1.55" fill="#6aa2c0" stroke="#172f3e" stroke-width="1.2"/>
<circle cx="336.1" cy="293" r="1.55" fill="#6aa2c0" stroke="#172f3e" stroke-width="1.2"/>
<circle cx="339.1" cy="293" r="1.55" fill="#6aa2c0" stroke="#172f3e" stroke-width="1.2"/>
<circle cx="342.1" cy="294" r="1.55" fill="#6aa2c0" stroke="#172f3e" stroke-width="1.2"/>
<circle cx="337.6" cy="295.8" r="1.55" fill="#6aa2c0" stroke="#172f3e" stroke-width="1.2"/>
<line x1="358.7" y1="292.8" x2="358.7" y2="295.5" stroke="#1a1a1a" stroke-width="1.15"/>
<line x1="354.7" y1="292.8" x2="362.7" y2="292.8" stroke="#1a1a1a" stroke-width="1.3"/>
<line x1="354.7" y1="295.5" x2="362.7" y2="295.5" stroke="#1a1a1a" stroke-width="1.3"/>
<circle cx="354.2" cy="293.5" r="1.55" fill="#6aa06c" stroke="#17301c" stroke-width="1.2"/>
<circle cx="357.2" cy="293" r="1.55" fill="#6aa06c" stroke="#17301c" stroke-width="1.2"/>
<circle cx="360.2" cy="292.5" r="1.55" fill="#6aa06c" stroke="#17301c" stroke-width="1.2"/>
<circle cx="363.2" cy="293" r="1.55" fill="#6aa06c" stroke="#17301c" stroke-width="1.2"/>
<circle cx="364.7" cy="294.4" r="1.55" fill="#6aa06c" stroke="#17301c" stroke-width="1.2"/>
<line x1="389.4" y1="289" x2="389.4" y2="293" stroke="#1a1a1a" stroke-width="1.15"/>
<line x1="385.4" y1="289" x2="393.4" y2="289" stroke="#1a1a1a" stroke-width="1.3"/>
<line x1="385.4" y1="293" x2="393.4" y2="293" stroke="#1a1a1a" stroke-width="1.3"/>
<circle cx="389.4" cy="288.8" r="1.55" fill="#6aa2c0" stroke="#172f3e" stroke-width="1.2"/>
<circle cx="385.4" cy="291.5" r="1.55" fill="#6aa2c0" stroke="#172f3e" stroke-width="1.2"/>
<circle cx="388.4" cy="291" r="1.55" fill="#6aa2c0" stroke="#172f3e" stroke-width="1.2"/>
<circle cx="391.9" cy="291.3" r="1.55" fill="#6aa2c0" stroke="#172f3e" stroke-width="1.2"/>
<circle cx="394.9" cy="292.5" r="1.55" fill="#6aa2c0" stroke="#172f3e" stroke-width="1.2"/>
<circle cx="385.4" cy="294" r="1.55" fill="#6aa2c0" stroke="#172f3e" stroke-width="1.2"/>
<line x1="410.5" y1="291.3" x2="410.5" y2="294.5" stroke="#1a1a1a" stroke-width="1.15"/>
<line x1="406.5" y1="291.3" x2="414.5" y2="291.3" stroke="#1a1a1a" stroke-width="1.3"/>
<line x1="406.5" y1="294.5" x2="414.5" y2="294.5" stroke="#1a1a1a" stroke-width="1.3"/>
<circle cx="406.5" cy="293" r="1.55" fill="#6aa06c" stroke="#17301c" stroke-width="1.2"/>
<circle cx="409.5" cy="292.3" r="1.55" fill="#6aa06c" stroke="#17301c" stroke-width="1.2"/>
<circle cx="412.5" cy="292.6" r="1.55" fill="#6aa06c" stroke="#17301c" stroke-width="1.2"/>
<circle cx="415.5" cy="293.4" r="1.55" fill="#6aa06c" stroke="#17301c" stroke-width="1.2"/>
<circle cx="416.5" cy="294.6" r="1.55" fill="#6aa06c" stroke="#17301c" stroke-width="1.2"/>
<line x1="440.6" y1="256.1" x2="440.6" y2="284.9" stroke="#1a1a1a" stroke-width="1.15"/>
<line x1="436.6" y1="256.1" x2="444.6" y2="256.1" stroke="#1a1a1a" stroke-width="1.3"/>
<line x1="436.6" y1="284.9" x2="444.6" y2="284.9" stroke="#1a1a1a" stroke-width="1.3"/>
<circle cx="440.6" cy="250.8" r="1.55" fill="#6aa2c0" stroke="#172f3e" stroke-width="1.2"/>
<circle cx="440.6" cy="255.9" r="1.55" fill="#6aa2c0" stroke="#172f3e" stroke-width="1.2"/>
<circle cx="437" cy="265.8" r="1.55" fill="#6aa2c0" stroke="#172f3e" stroke-width="1.2"/>
<circle cx="444.2" cy="267.9" r="1.55" fill="#6aa2c0" stroke="#172f3e" stroke-width="1.2"/>
<circle cx="437.1" cy="284.9" r="1.55" fill="#6aa2c0" stroke="#172f3e" stroke-width="1.2"/>
<circle cx="440.6" cy="284.9" r="1.55" fill="#6aa2c0" stroke="#172f3e" stroke-width="1.2"/>
<circle cx="444.2" cy="288.8" r="1.55" fill="#6aa2c0" stroke="#172f3e" stroke-width="1.2"/>
<line x1="461.7" y1="279.8" x2="461.7" y2="288.5" stroke="#1a1a1a" stroke-width="1.15"/>
<line x1="457.7" y1="279.8" x2="465.7" y2="279.8" stroke="#1a1a1a" stroke-width="1.3"/>
<line x1="457.7" y1="288.5" x2="465.7" y2="288.5" stroke="#1a1a1a" stroke-width="1.3"/>
<circle cx="467.3" cy="278.6" r="1.55" fill="#6aa06c" stroke="#17301c" stroke-width="1.2"/>
<circle cx="464.3" cy="279" r="1.55" fill="#6aa06c" stroke="#17301c" stroke-width="1.2"/>
<circle cx="456.7" cy="282.4" r="1.55" fill="#6aa06c" stroke="#17301c" stroke-width="1.2"/>
<circle cx="459.7" cy="283.7" r="1.55" fill="#6aa06c" stroke="#17301c" stroke-width="1.2"/>
<circle cx="456.7" cy="286.4" r="1.55" fill="#6aa06c" stroke="#17301c" stroke-width="1.2"/>
<circle cx="459.7" cy="287.4" r="1.55" fill="#6aa06c" stroke="#17301c" stroke-width="1.2"/>
<circle cx="465.7" cy="289.9" r="1.55" fill="#6aa06c" stroke="#17301c" stroke-width="1.2"/>
<rect x="330.2" y="293.5" width="14.8" height="6" fill="#2ba6de" fill-opacity="0.42"/>
<rect x="351.3" y="294" width="14.8" height="5.5" fill="#36ad3c" fill-opacity="0.42"/>
<rect x="382" y="290.8" width="14.8" height="8.7" fill="#2ba6de" fill-opacity="0.42"/>
<rect x="403.1" y="292.7" width="14.8" height="6.8" fill="#36ad3c" fill-opacity="0.42"/>
<rect x="433.2" y="271.9" width="14.8" height="27.6" fill="#2ba6de" fill-opacity="0.42"/>
<rect x="454.3" y="284.9" width="14.8" height="14.6" fill="#36ad3c" fill-opacity="0.42"/>
<line x1="322.8" y1="214.8" x2="322.8" y2="300" stroke="#1a1a1a" stroke-width="1.15"/>
<line x1="322.3" y1="299.5" x2="476.8" y2="299.5" stroke="#1a1a1a" stroke-width="1.15"/>
<line x1="319.5" y1="299.5" x2="322.8" y2="299.5" stroke="#1a1a1a" stroke-width="1"/>
<text x="316.2" y="302.3" font-size="8.2" fill="#1c1c1c" stroke="#1c1c1c" stroke-width="0.16" text-anchor="end" textLength="4.8" lengthAdjust="spacingAndGlyphs">0</text>
<line x1="319.5" y1="272.37" x2="322.8" y2="272.37" stroke="#1a1a1a" stroke-width="1"/>
<text x="316.2" y="275.17" font-size="8.2" fill="#1c1c1c" stroke="#1c1c1c" stroke-width="0.16" text-anchor="end" textLength="19.2" lengthAdjust="spacingAndGlyphs">1000</text>
<line x1="319.5" y1="245.23" x2="322.8" y2="245.23" stroke="#1a1a1a" stroke-width="1"/>
<text x="316.2" y="248.03" font-size="8.2" fill="#1c1c1c" stroke="#1c1c1c" stroke-width="0.16" text-anchor="end" textLength="19.2" lengthAdjust="spacingAndGlyphs">2000</text>
<line x1="319.5" y1="218.1" x2="322.8" y2="218.1" stroke="#1a1a1a" stroke-width="1"/>
<text x="316.2" y="220.9" font-size="8.2" fill="#1c1c1c" stroke="#1c1c1c" stroke-width="0.16" text-anchor="end" textLength="19.2" lengthAdjust="spacingAndGlyphs">3000</text>
<line x1="337.6" y1="299.5" x2="337.6" y2="302" stroke="#1a1a1a" stroke-width="1"/>
<line x1="358.7" y1="299.5" x2="358.7" y2="302" stroke="#1a1a1a" stroke-width="1"/>
<line x1="389.4" y1="299.5" x2="389.4" y2="302" stroke="#1a1a1a" stroke-width="1"/>
<line x1="410.5" y1="299.5" x2="410.5" y2="302" stroke="#1a1a1a" stroke-width="1"/>
<line x1="440.6" y1="299.5" x2="440.6" y2="302" stroke="#1a1a1a" stroke-width="1"/>
<line x1="461.7" y1="299.5" x2="461.7" y2="302" stroke="#1a1a1a" stroke-width="1"/>
<text x="289.2" y="257.6" font-size="9" fill="#1c1c1c" stroke="#1c1c1c" stroke-width="0.28" text-anchor="middle" textLength="76" lengthAdjust="spacingAndGlyphs" transform="rotate(-90 289.2 257.6)">Plasma cFGF23 (pg/mL)</text>
<text x="337.6" y="313.8" font-size="9.2" fill="#1c1c1c" stroke="#1c1c1c" stroke-width="0.16" text-anchor="middle" textLength="13.2" lengthAdjust="spacingAndGlyphs">+/+</text>
<text x="358.7" y="313.8" font-size="9.2" fill="#1c1c1c" stroke="#1c1c1c" stroke-width="0.16" text-anchor="middle" textLength="13.8" lengthAdjust="spacingAndGlyphs">+/G</text>
<text x="389.4" y="313.8" font-size="9.2" fill="#1c1c1c" stroke="#1c1c1c" stroke-width="0.16" text-anchor="middle" textLength="13.2" lengthAdjust="spacingAndGlyphs">+/+</text>
<text x="410.5" y="313.8" font-size="9.2" fill="#1c1c1c" stroke="#1c1c1c" stroke-width="0.16" text-anchor="middle" textLength="13.8" lengthAdjust="spacingAndGlyphs">+/G</text>
<text x="440.6" y="313.8" font-size="9.2" fill="#1c1c1c" stroke="#1c1c1c" stroke-width="0.16" text-anchor="middle" textLength="13.2" lengthAdjust="spacingAndGlyphs">+/+</text>
<text x="461.7" y="313.8" font-size="9.2" fill="#1c1c1c" stroke="#1c1c1c" stroke-width="0.16" text-anchor="middle" textLength="13.8" lengthAdjust="spacingAndGlyphs">+/G</text>
<text x="481.3" y="313.8" font-size="8.8" fill="#1c1c1c" stroke="#1c1c1c" stroke-width="0.16" font-style="italic" textLength="21.2" lengthAdjust="spacingAndGlyphs">Fgf23</text>
<line x1="327.95" y1="319.1" x2="366.55" y2="319.1" stroke="#333" stroke-width="1"/>
<line x1="379.75" y1="319.1" x2="418.35" y2="319.1" stroke="#333" stroke-width="1"/>
<line x1="430.95" y1="319.1" x2="469.55" y2="319.1" stroke="#333" stroke-width="1"/>
<text x="347.25" y="329.8" font-size="9.2" fill="#1c1c1c" stroke="#1c1c1c" stroke-width="0.16" text-anchor="middle" textLength="13.2" lengthAdjust="spacingAndGlyphs">+/+</text>
<text x="399.05" y="329.8" font-size="9.2" fill="#1c1c1c" stroke="#1c1c1c" stroke-width="0.16" text-anchor="middle" textLength="13.2" lengthAdjust="spacingAndGlyphs">+/−</text>
<text x="450.25" y="329.8" font-size="9.2" fill="#1c1c1c" stroke="#1c1c1c" stroke-width="0.16" text-anchor="middle" textLength="13.2" lengthAdjust="spacingAndGlyphs">−/−</text>
<text x="481.7" y="329.8" font-size="8.8" fill="#1c1c1c" stroke="#1c1c1c" stroke-width="0.16" font-style="italic" textLength="30.4" lengthAdjust="spacingAndGlyphs">Tmprss6</text>
<line x1="337.5" y1="208.8" x2="442.5" y2="208.8" stroke="#474747" stroke-width="1.2"/>
<circle cx="385.05" cy="205.8" r="1.12" fill="#222"/>
<circle cx="388.35" cy="205.8" r="1.12" fill="#222"/>
<circle cx="391.65" cy="205.8" r="1.12" fill="#222"/>
<circle cx="394.95" cy="205.8" r="1.12" fill="#222"/>
<line x1="357" y1="216.8" x2="462.2" y2="216.8" stroke="#474747" stroke-width="1.2"/>
<circle cx="407.95" cy="213.8" r="1.12" fill="#222"/>
<circle cx="411.25" cy="213.8" r="1.12" fill="#222"/>
<line x1="390" y1="224.5" x2="441.5" y2="224.5" stroke="#474747" stroke-width="1.2"/>
<circle cx="410.8" cy="221.5" r="1.12" fill="#222"/>
<circle cx="414.1" cy="221.5" r="1.12" fill="#222"/>
<circle cx="417.4" cy="221.5" r="1.12" fill="#222"/>
<circle cx="420.7" cy="221.5" r="1.12" fill="#222"/>
<line x1="410.8" y1="231.3" x2="462.2" y2="231.3" stroke="#474747" stroke-width="1.2"/>
<circle cx="436.5" cy="228.3" r="1.12" fill="#222"/>
<line x1="440.6" y1="238.1" x2="462.2" y2="238.1" stroke="#474747" stroke-width="1.2"/>
<circle cx="448.1" cy="235.1" r="1.12" fill="#222"/>
<circle cx="451.4" cy="235.1" r="1.12" fill="#222"/>
<circle cx="454.7" cy="235.1" r="1.12" fill="#222"/>
<text x="8.2" y="359.6" font-size="11.9" fill="#111" stroke="#111" stroke-width="0.1" font-weight="bold">C</text>
<rect x="69.2" y="417.1" width="14.8" height="39.3" fill="#2ba6de"/>
<rect x="90.3" y="419.6" width="14.8" height="36.8" fill="#36ad3c"/>
<rect x="121" y="426.2" width="14.8" height="30.2" fill="#2ba6de"/>
<rect x="142.1" y="424.2" width="14.8" height="32.2" fill="#36ad3c"/>
<rect x="172.2" y="409" width="14.8" height="47.4" fill="#2ba6de"/>
<rect x="193.3" y="418.1" width="14.8" height="38.3" fill="#36ad3c"/>
<line x1="76.6" y1="406.2" x2="76.6" y2="427.7" stroke="#1a1a1a" stroke-width="1.15"/>
<line x1="72.6" y1="406.2" x2="80.6" y2="406.2" stroke="#1a1a1a" stroke-width="1.3"/>
<line x1="72.6" y1="427.7" x2="80.6" y2="427.7" stroke="#1a1a1a" stroke-width="1.3"/>
<circle cx="76.9" cy="396.9" r="1.55" fill="#6aa2c0" stroke="#172f3e" stroke-width="1.2"/>
<circle cx="71" cy="417.1" r="1.55" fill="#6aa2c0" stroke="#172f3e" stroke-width="1.2"/>
<circle cx="75" cy="418.5" r="1.55" fill="#6aa2c0" stroke="#172f3e" stroke-width="1.2"/>
<circle cx="78.8" cy="419.6" r="1.55" fill="#6aa2c0" stroke="#172f3e" stroke-width="1.2"/>
<circle cx="82.7" cy="419.6" r="1.55" fill="#6aa2c0" stroke="#172f3e" stroke-width="1.2"/>
<circle cx="76.9" cy="430" r="1.55" fill="#6aa2c0" stroke="#172f3e" stroke-width="1.2"/>
<line x1="97.7" y1="408.5" x2="97.7" y2="429" stroke="#1a1a1a" stroke-width="1.15"/>
<line x1="93.7" y1="408.5" x2="101.7" y2="408.5" stroke="#1a1a1a" stroke-width="1.3"/>
<line x1="93.7" y1="429" x2="101.7" y2="429" stroke="#1a1a1a" stroke-width="1.3"/>
<circle cx="98" cy="398.8" r="1.55" fill="#6aa06c" stroke="#17301c" stroke-width="1.2"/>
<circle cx="94.2" cy="420.4" r="1.55" fill="#6aa06c" stroke="#17301c" stroke-width="1.2"/>
<circle cx="101.9" cy="420.4" r="1.55" fill="#6aa06c" stroke="#17301c" stroke-width="1.2"/>
<circle cx="93.2" cy="424.8" r="1.55" fill="#6aa06c" stroke="#17301c" stroke-width="1.2"/>
<circle cx="98" cy="424.8" r="1.55" fill="#6aa06c" stroke="#17301c" stroke-width="1.2"/>
<circle cx="103.2" cy="424.8" r="1.55" fill="#6aa06c" stroke="#17301c" stroke-width="1.2"/>
<line x1="128.4" y1="421.5" x2="128.4" y2="428.7" stroke="#1a1a1a" stroke-width="1.15"/>
<line x1="124.4" y1="421.5" x2="132.4" y2="421.5" stroke="#1a1a1a" stroke-width="1.3"/>
<line x1="124.4" y1="428.7" x2="132.4" y2="428.7" stroke="#1a1a1a" stroke-width="1.3"/>
<circle cx="133.1" cy="420" r="1.55" fill="#6aa2c0" stroke="#172f3e" stroke-width="1.2"/>
<circle cx="123.5" cy="422.3" r="1.55" fill="#6aa2c0" stroke="#172f3e" stroke-width="1.2"/>
<circle cx="128.3" cy="423.8" r="1.55" fill="#6aa2c0" stroke="#172f3e" stroke-width="1.2"/>
<circle cx="123.5" cy="427.7" r="1.55" fill="#6aa2c0" stroke="#172f3e" stroke-width="1.2"/>
<circle cx="128.3" cy="428.7" r="1.55" fill="#6aa2c0" stroke="#172f3e" stroke-width="1.2"/>
<circle cx="133.5" cy="428.7" r="1.55" fill="#6aa2c0" stroke="#172f3e" stroke-width="1.2"/>
<line x1="149.5" y1="414.6" x2="149.5" y2="433.1" stroke="#1a1a1a" stroke-width="1.15"/>
<line x1="145.5" y1="414.6" x2="153.5" y2="414.6" stroke="#1a1a1a" stroke-width="1.3"/>
<line x1="145.5" y1="433.1" x2="153.5" y2="433.1" stroke="#1a1a1a" stroke-width="1.3"/>
<circle cx="153.3" cy="410.8" r="1.55" fill="#6aa06c" stroke="#17301c" stroke-width="1.2"/>
<circle cx="145.2" cy="414.2" r="1.55" fill="#6aa06c" stroke="#17301c" stroke-width="1.2"/>
<circle cx="149.1" cy="422.3" r="1.55" fill="#6aa06c" stroke="#17301c" stroke-width="1.2"/>
<circle cx="145.2" cy="428.7" r="1.55" fill="#6aa06c" stroke="#17301c" stroke-width="1.2"/>
<circle cx="153.3" cy="428.7" r="1.55" fill="#6aa06c" stroke="#17301c" stroke-width="1.2"/>
<circle cx="149.1" cy="435.4" r="1.55" fill="#6aa06c" stroke="#17301c" stroke-width="1.2"/>
<line x1="179.6" y1="400.4" x2="179.6" y2="417.1" stroke="#1a1a1a" stroke-width="1.15"/>
<line x1="175.6" y1="400.4" x2="183.6" y2="400.4" stroke="#1a1a1a" stroke-width="1.3"/>
<line x1="175.6" y1="417.1" x2="183.6" y2="417.1" stroke="#1a1a1a" stroke-width="1.3"/>
<circle cx="179.6" cy="394" r="1.55" fill="#6aa2c0" stroke="#172f3e" stroke-width="1.2"/>
<circle cx="179.6" cy="402.7" r="1.55" fill="#6aa2c0" stroke="#172f3e" stroke-width="1.2"/>
<circle cx="174.2" cy="408.1" r="1.55" fill="#6aa2c0" stroke="#172f3e" stroke-width="1.2"/>
<circle cx="177.7" cy="410.8" r="1.55" fill="#6aa2c0" stroke="#172f3e" stroke-width="1.2"/>
<circle cx="181.5" cy="410.8" r="1.55" fill="#6aa2c0" stroke="#172f3e" stroke-width="1.2"/>
<circle cx="185.4" cy="412.7" r="1.55" fill="#6aa2c0" stroke="#172f3e" stroke-width="1.2"/>
<circle cx="179.6" cy="421" r="1.55" fill="#6aa2c0" stroke="#172f3e" stroke-width="1.2"/>
<line x1="200.7" y1="411.3" x2="200.7" y2="421.5" stroke="#1a1a1a" stroke-width="1.15"/>
<line x1="196.7" y1="411.3" x2="204.7" y2="411.3" stroke="#1a1a1a" stroke-width="1.3"/>
<line x1="196.7" y1="421.5" x2="204.7" y2="421.5" stroke="#1a1a1a" stroke-width="1.3"/>
<circle cx="198.4" cy="411.3" r="1.55" fill="#6aa06c" stroke="#17301c" stroke-width="1.2"/>
<circle cx="205.1" cy="411.3" r="1.55" fill="#6aa06c" stroke="#17301c" stroke-width="1.2"/>
<circle cx="197.1" cy="415.8" r="1.55" fill="#6aa06c" stroke="#17301c" stroke-width="1.2"/>
<circle cx="200.9" cy="418.1" r="1.55" fill="#6aa06c" stroke="#17301c" stroke-width="1.2"/>
<circle cx="197.1" cy="422.3" r="1.55" fill="#6aa06c" stroke="#17301c" stroke-width="1.2"/>
<circle cx="204.8" cy="419" r="1.55" fill="#6aa06c" stroke="#17301c" stroke-width="1.2"/>
<circle cx="204.8" cy="425.8" r="1.55" fill="#6aa06c" stroke="#17301c" stroke-width="1.2"/>
<rect x="69.2" y="417.1" width="14.8" height="39.3" fill="#2ba6de" fill-opacity="0.42"/>
<rect x="90.3" y="419.6" width="14.8" height="36.8" fill="#36ad3c" fill-opacity="0.42"/>
<rect x="121" y="426.2" width="14.8" height="30.2" fill="#2ba6de" fill-opacity="0.42"/>
<rect x="142.1" y="424.2" width="14.8" height="32.2" fill="#36ad3c" fill-opacity="0.42"/>
<rect x="172.2" y="409" width="14.8" height="47.4" fill="#2ba6de" fill-opacity="0.42"/>
<rect x="193.3" y="418.1" width="14.8" height="38.3" fill="#36ad3c" fill-opacity="0.42"/>
<line x1="61.8" y1="372.1" x2="61.8" y2="456.9" stroke="#1a1a1a" stroke-width="1.15"/>
<line x1="61.3" y1="456.4" x2="215.8" y2="456.4" stroke="#1a1a1a" stroke-width="1.15"/>
<line x1="58.5" y1="456.4" x2="61.8" y2="456.4" stroke="#1a1a1a" stroke-width="1"/>
<text x="55.2" y="459.2" font-size="8.2" fill="#1c1c1c" stroke="#1c1c1c" stroke-width="0.16" text-anchor="end" textLength="4.8" lengthAdjust="spacingAndGlyphs">0</text>
<line x1="58.5" y1="436.15" x2="61.8" y2="436.15" stroke="#1a1a1a" stroke-width="1"/>
<text x="55.2" y="438.95" font-size="8.2" fill="#1c1c1c" stroke="#1c1c1c" stroke-width="0.16" text-anchor="end" textLength="14.4" lengthAdjust="spacingAndGlyphs">100</text>
<line x1="58.5" y1="415.9" x2="61.8" y2="415.9" stroke="#1a1a1a" stroke-width="1"/>
<text x="55.2" y="418.7" font-size="8.2" fill="#1c1c1c" stroke="#1c1c1c" stroke-width="0.16" text-anchor="end" textLength="14.4" lengthAdjust="spacingAndGlyphs">200</text>
<line x1="58.5" y1="395.65" x2="61.8" y2="395.65" stroke="#1a1a1a" stroke-width="1"/>
<text x="55.2" y="398.45" font-size="8.2" fill="#1c1c1c" stroke="#1c1c1c" stroke-width="0.16" text-anchor="end" textLength="14.4" lengthAdjust="spacingAndGlyphs">300</text>
<line x1="58.5" y1="375.4" x2="61.8" y2="375.4" stroke="#1a1a1a" stroke-width="1"/>
<text x="55.2" y="378.2" font-size="8.2" fill="#1c1c1c" stroke="#1c1c1c" stroke-width="0.16" text-anchor="end" textLength="14.4" lengthAdjust="spacingAndGlyphs">400</text>
<line x1="76.6" y1="456.4" x2="76.6" y2="458.9" stroke="#1a1a1a" stroke-width="1"/>
<line x1="97.7" y1="456.4" x2="97.7" y2="458.9" stroke="#1a1a1a" stroke-width="1"/>
<line x1="128.4" y1="456.4" x2="128.4" y2="458.9" stroke="#1a1a1a" stroke-width="1"/>
<line x1="149.5" y1="456.4" x2="149.5" y2="458.9" stroke="#1a1a1a" stroke-width="1"/>
<line x1="179.6" y1="456.4" x2="179.6" y2="458.9" stroke="#1a1a1a" stroke-width="1"/>
<line x1="200.7" y1="456.4" x2="200.7" y2="458.9" stroke="#1a1a1a" stroke-width="1"/>
<text x="33" y="414.3" font-size="9" fill="#1c1c1c" stroke="#1c1c1c" stroke-width="0.28" text-anchor="middle" textLength="76" lengthAdjust="spacingAndGlyphs" transform="rotate(-90 33 414.3)">Plasma iFGF23 (pg/mL)</text>
<text x="76.6" y="470.7" font-size="9.2" fill="#1c1c1c" stroke="#1c1c1c" stroke-width="0.16" text-anchor="middle" textLength="13.2" lengthAdjust="spacingAndGlyphs">+/+</text>
<text x="97.7" y="470.7" font-size="9.2" fill="#1c1c1c" stroke="#1c1c1c" stroke-width="0.16" text-anchor="middle" textLength="13.8" lengthAdjust="spacingAndGlyphs">+/G</text>
<text x="128.4" y="470.7" font-size="9.2" fill="#1c1c1c" stroke="#1c1c1c" stroke-width="0.16" text-anchor="middle" textLength="13.2" lengthAdjust="spacingAndGlyphs">+/+</text>
<text x="149.5" y="470.7" font-size="9.2" fill="#1c1c1c" stroke="#1c1c1c" stroke-width="0.16" text-anchor="middle" textLength="13.8" lengthAdjust="spacingAndGlyphs">+/G</text>
<text x="179.6" y="470.7" font-size="9.2" fill="#1c1c1c" stroke="#1c1c1c" stroke-width="0.16" text-anchor="middle" textLength="13.2" lengthAdjust="spacingAndGlyphs">+/+</text>
<text x="200.7" y="470.7" font-size="9.2" fill="#1c1c1c" stroke="#1c1c1c" stroke-width="0.16" text-anchor="middle" textLength="13.8" lengthAdjust="spacingAndGlyphs">+/G</text>
<text x="220.3" y="470.7" font-size="8.8" fill="#1c1c1c" stroke="#1c1c1c" stroke-width="0.16" font-style="italic" textLength="21.2" lengthAdjust="spacingAndGlyphs">Fgf23</text>
<line x1="66.95" y1="476" x2="105.55" y2="476" stroke="#333" stroke-width="1"/>
<line x1="118.75" y1="476" x2="157.35" y2="476" stroke="#333" stroke-width="1"/>
<line x1="169.95" y1="476" x2="208.55" y2="476" stroke="#333" stroke-width="1"/>
<text x="86.25" y="486.7" font-size="9.2" fill="#1c1c1c" stroke="#1c1c1c" stroke-width="0.16" text-anchor="middle" textLength="13.2" lengthAdjust="spacingAndGlyphs">+/+</text>
<text x="138.05" y="486.7" font-size="9.2" fill="#1c1c1c" stroke="#1c1c1c" stroke-width="0.16" text-anchor="middle" textLength="13.2" lengthAdjust="spacingAndGlyphs">+/−</text>
<text x="189.25" y="486.7" font-size="9.2" fill="#1c1c1c" stroke="#1c1c1c" stroke-width="0.16" text-anchor="middle" textLength="13.2" lengthAdjust="spacingAndGlyphs">−/−</text>
<text x="220.7" y="486.7" font-size="8.8" fill="#1c1c1c" stroke="#1c1c1c" stroke-width="0.16" font-style="italic" textLength="30.4" lengthAdjust="spacingAndGlyphs">Tmprss6</text>
<line x1="128.7" y1="383.1" x2="180" y2="383.1" stroke="#474747" stroke-width="1.2"/>
<circle cx="152.7" cy="380.1" r="1.12" fill="#222"/>
<circle cx="156" cy="380.1" r="1.12" fill="#222"/>
<text x="269.2" y="359.3" font-size="11.9" fill="#111" stroke="#111" stroke-width="0.1" font-weight="bold">F</text>
<rect x="330.2" y="419.2" width="14.8" height="37.1" fill="#2ba6de"/>
<rect x="351.3" y="424" width="14.8" height="32.3" fill="#36ad3c"/>
<rect x="382" y="411" width="14.8" height="45.3" fill="#2ba6de"/>
<rect x="403.1" y="418.3" width="14.8" height="38" fill="#36ad3c"/>
<rect x="433.2" y="402.3" width="14.8" height="54" fill="#2ba6de"/>
<rect x="454.3" y="416.1" width="14.8" height="40.2" fill="#36ad3c"/>
<line x1="337.6" y1="407.7" x2="337.6" y2="427.7" stroke="#1a1a1a" stroke-width="1.15"/>
<line x1="333.6" y1="407.7" x2="341.6" y2="407.7" stroke="#1a1a1a" stroke-width="1.3"/>
<line x1="333.6" y1="427.7" x2="341.6" y2="427.7" stroke="#1a1a1a" stroke-width="1.3"/>
<circle cx="337.8" cy="400" r="1.55" fill="#6aa2c0" stroke="#172f3e" stroke-width="1.2"/>
<circle cx="335.1" cy="414.4" r="1.55" fill="#6aa2c0" stroke="#172f3e" stroke-width="1.2"/>
<circle cx="339.7" cy="417.7" r="1.55" fill="#6aa2c0" stroke="#172f3e" stroke-width="1.2"/>
<circle cx="332.9" cy="425" r="1.55" fill="#6aa2c0" stroke="#172f3e" stroke-width="1.2"/>
<circle cx="337.8" cy="426.3" r="1.55" fill="#6aa2c0" stroke="#172f3e" stroke-width="1.2"/>
<circle cx="342.8" cy="426.9" r="1.55" fill="#6aa2c0" stroke="#172f3e" stroke-width="1.2"/>
<line x1="358.7" y1="420" x2="358.7" y2="428.3" stroke="#1a1a1a" stroke-width="1.15"/>
<line x1="354.7" y1="420" x2="362.7" y2="420" stroke="#1a1a1a" stroke-width="1.3"/>
<line x1="354.7" y1="428.3" x2="362.7" y2="428.3" stroke="#1a1a1a" stroke-width="1.3"/>
<circle cx="353.9" cy="420.6" r="1.55" fill="#6aa06c" stroke="#17301c" stroke-width="1.2"/>
<circle cx="363.5" cy="421.2" r="1.55" fill="#6aa06c" stroke="#17301c" stroke-width="1.2"/>
<circle cx="358.7" cy="421.9" r="1.55" fill="#6aa06c" stroke="#17301c" stroke-width="1.2"/>
<circle cx="356.4" cy="427.7" r="1.55" fill="#6aa06c" stroke="#17301c" stroke-width="1.2"/>
<circle cx="361.2" cy="428.3" r="1.55" fill="#6aa06c" stroke="#17301c" stroke-width="1.2"/>
<line x1="389.4" y1="396.5" x2="389.4" y2="423.8" stroke="#1a1a1a" stroke-width="1.15"/>
<line x1="385.4" y1="396.5" x2="393.4" y2="396.5" stroke="#1a1a1a" stroke-width="1.3"/>
<line x1="385.4" y1="423.8" x2="393.4" y2="423.8" stroke="#1a1a1a" stroke-width="1.3"/>
<circle cx="388.8" cy="386.9" r="1.55" fill="#6aa2c0" stroke="#172f3e" stroke-width="1.2"/>
<circle cx="388.8" cy="396.5" r="1.55" fill="#6aa2c0" stroke="#172f3e" stroke-width="1.2"/>
<circle cx="388.8" cy="409" r="1.55" fill="#6aa2c0" stroke="#172f3e" stroke-width="1.2"/>
<circle cx="385.4" cy="415.8" r="1.55" fill="#6aa2c0" stroke="#172f3e" stroke-width="1.2"/>
<circle cx="393.4" cy="418.1" r="1.55" fill="#6aa2c0" stroke="#172f3e" stroke-width="1.2"/>
<circle cx="385.4" cy="421.2" r="1.55" fill="#6aa2c0" stroke="#172f3e" stroke-width="1.2"/>
<circle cx="393.4" cy="425" r="1.55" fill="#6aa2c0" stroke="#172f3e" stroke-width="1.2"/>
<line x1="410.5" y1="410" x2="410.5" y2="423.5" stroke="#1a1a1a" stroke-width="1.15"/>
<line x1="406.5" y1="410" x2="414.5" y2="410" stroke="#1a1a1a" stroke-width="1.3"/>
<line x1="406.5" y1="423.5" x2="414.5" y2="423.5" stroke="#1a1a1a" stroke-width="1.3"/>
<circle cx="410.4" cy="404.2" r="1.55" fill="#6aa06c" stroke="#17301c" stroke-width="1.2"/>
<circle cx="407.5" cy="413.8" r="1.55" fill="#6aa06c" stroke="#17301c" stroke-width="1.2"/>
<circle cx="413.3" cy="414.2" r="1.55" fill="#6aa06c" stroke="#17301c" stroke-width="1.2"/>
<circle cx="410.4" cy="417.7" r="1.55" fill="#6aa06c" stroke="#17301c" stroke-width="1.2"/>
<circle cx="405.5" cy="423.5" r="1.55" fill="#6aa06c" stroke="#17301c" stroke-width="1.2"/>
<circle cx="410.4" cy="422.5" r="1.55" fill="#6aa06c" stroke="#17301c" stroke-width="1.2"/>
<circle cx="415.2" cy="425.4" r="1.55" fill="#6aa06c" stroke="#17301c" stroke-width="1.2"/>
<line x1="440.6" y1="389.4" x2="440.6" y2="414.5" stroke="#1a1a1a" stroke-width="1.15"/>
<line x1="436.6" y1="389.4" x2="444.6" y2="389.4" stroke="#1a1a1a" stroke-width="1.3"/>
<line x1="436.6" y1="414.5" x2="444.6" y2="414.5" stroke="#1a1a1a" stroke-width="1.3"/>
<circle cx="440.6" cy="381.3" r="1.55" fill="#6aa2c0" stroke="#172f3e" stroke-width="1.2"/>
<circle cx="440.6" cy="393.2" r="1.55" fill="#6aa2c0" stroke="#172f3e" stroke-width="1.2"/>
<circle cx="435.4" cy="398.1" r="1.55" fill="#6aa2c0" stroke="#172f3e" stroke-width="1.2"/>
<circle cx="445.6" cy="396.2" r="1.55" fill="#6aa2c0" stroke="#172f3e" stroke-width="1.2"/>
<circle cx="440.6" cy="399.6" r="1.55" fill="#6aa2c0" stroke="#172f3e" stroke-width="1.2"/>
<circle cx="438.1" cy="415" r="1.55" fill="#6aa2c0" stroke="#172f3e" stroke-width="1.2"/>
<circle cx="443.2" cy="417.9" r="1.55" fill="#6aa2c0" stroke="#172f3e" stroke-width="1.2"/>
<line x1="461.7" y1="411.8" x2="461.7" y2="422.2" stroke="#1a1a1a" stroke-width="1.15"/>
<line x1="457.7" y1="411.8" x2="465.7" y2="411.8" stroke="#1a1a1a" stroke-width="1.3"/>
<line x1="457.7" y1="422.2" x2="465.7" y2="422.2" stroke="#1a1a1a" stroke-width="1.3"/>
<circle cx="461.6" cy="405.7" r="1.55" fill="#6aa06c" stroke="#17301c" stroke-width="1.2"/>
<circle cx="456.5" cy="417.3" r="1.55" fill="#6aa06c" stroke="#17301c" stroke-width="1.2"/>
<circle cx="461.1" cy="416.8" r="1.55" fill="#6aa06c" stroke="#17301c" stroke-width="1.2"/>
<circle cx="464.1" cy="420.3" r="1.55" fill="#6aa06c" stroke="#17301c" stroke-width="1.2"/>
<circle cx="467.1" cy="421.9" r="1.55" fill="#6aa06c" stroke="#17301c" stroke-width="1.2"/>
<circle cx="458.9" cy="420.6" r="1.55" fill="#6aa06c" stroke="#17301c" stroke-width="1.2"/>
<rect x="330.2" y="419.2" width="14.8" height="37.1" fill="#2ba6de" fill-opacity="0.42"/>
<rect x="351.3" y="424" width="14.8" height="32.3" fill="#36ad3c" fill-opacity="0.42"/>
<rect x="382" y="411" width="14.8" height="45.3" fill="#2ba6de" fill-opacity="0.42"/>
<rect x="403.1" y="418.3" width="14.8" height="38" fill="#36ad3c" fill-opacity="0.42"/>
<rect x="433.2" y="402.3" width="14.8" height="54" fill="#2ba6de" fill-opacity="0.42"/>
<rect x="454.3" y="416.1" width="14.8" height="40.2" fill="#36ad3c" fill-opacity="0.42"/>
<line x1="322.8" y1="371.7" x2="322.8" y2="456.8" stroke="#1a1a1a" stroke-width="1.15"/>
<line x1="322.3" y1="456.3" x2="476.8" y2="456.3" stroke="#1a1a1a" stroke-width="1.15"/>
<line x1="319.5" y1="456.3" x2="322.8" y2="456.3" stroke="#1a1a1a" stroke-width="1"/>
<text x="316.2" y="459.1" font-size="8.2" fill="#1c1c1c" stroke="#1c1c1c" stroke-width="0.16" text-anchor="end" textLength="4.8" lengthAdjust="spacingAndGlyphs">0</text>
<line x1="319.5" y1="435.98" x2="322.8" y2="435.98" stroke="#1a1a1a" stroke-width="1"/>
<text x="316.2" y="438.78" font-size="8.2" fill="#1c1c1c" stroke="#1c1c1c" stroke-width="0.16" text-anchor="end" textLength="14.4" lengthAdjust="spacingAndGlyphs">100</text>
<line x1="319.5" y1="415.65" x2="322.8" y2="415.65" stroke="#1a1a1a" stroke-width="1"/>
<text x="316.2" y="418.45" font-size="8.2" fill="#1c1c1c" stroke="#1c1c1c" stroke-width="0.16" text-anchor="end" textLength="14.4" lengthAdjust="spacingAndGlyphs">200</text>
<line x1="319.5" y1="395.32" x2="322.8" y2="395.32" stroke="#1a1a1a" stroke-width="1"/>
<text x="316.2" y="398.12" font-size="8.2" fill="#1c1c1c" stroke="#1c1c1c" stroke-width="0.16" text-anchor="end" textLength="14.4" lengthAdjust="spacingAndGlyphs">300</text>
<line x1="319.5" y1="375" x2="322.8" y2="375" stroke="#1a1a1a" stroke-width="1"/>
<text x="316.2" y="377.8" font-size="8.2" fill="#1c1c1c" stroke="#1c1c1c" stroke-width="0.16" text-anchor="end" textLength="14.4" lengthAdjust="spacingAndGlyphs">400</text>
<line x1="337.6" y1="456.3" x2="337.6" y2="458.8" stroke="#1a1a1a" stroke-width="1"/>
<line x1="358.7" y1="456.3" x2="358.7" y2="458.8" stroke="#1a1a1a" stroke-width="1"/>
<line x1="389.4" y1="456.3" x2="389.4" y2="458.8" stroke="#1a1a1a" stroke-width="1"/>
<line x1="410.5" y1="456.3" x2="410.5" y2="458.8" stroke="#1a1a1a" stroke-width="1"/>
<line x1="440.6" y1="456.3" x2="440.6" y2="458.8" stroke="#1a1a1a" stroke-width="1"/>
<line x1="461.7" y1="456.3" x2="461.7" y2="458.8" stroke="#1a1a1a" stroke-width="1"/>
<text x="294.5" y="414.3" font-size="9" fill="#1c1c1c" stroke="#1c1c1c" stroke-width="0.28" text-anchor="middle" textLength="76" lengthAdjust="spacingAndGlyphs" transform="rotate(-90 294.5 414.3)">Plasma iFGF23 (pg/mL)</text>
<text x="337.6" y="470.6" font-size="9.2" fill="#1c1c1c" stroke="#1c1c1c" stroke-width="0.16" text-anchor="middle" textLength="13.2" lengthAdjust="spacingAndGlyphs">+/+</text>
<text x="358.7" y="470.6" font-size="9.2" fill="#1c1c1c" stroke="#1c1c1c" stroke-width="0.16" text-anchor="middle" textLength="13.8" lengthAdjust="spacingAndGlyphs">+/G</text>
<text x="389.4" y="470.6" font-size="9.2" fill="#1c1c1c" stroke="#1c1c1c" stroke-width="0.16" text-anchor="middle" textLength="13.2" lengthAdjust="spacingAndGlyphs">+/+</text>
<text x="410.5" y="470.6" font-size="9.2" fill="#1c1c1c" stroke="#1c1c1c" stroke-width="0.16" text-anchor="middle" textLength="13.8" lengthAdjust="spacingAndGlyphs">+/G</text>
<text x="440.6" y="470.6" font-size="9.2" fill="#1c1c1c" stroke="#1c1c1c" stroke-width="0.16" text-anchor="middle" textLength="13.2" lengthAdjust="spacingAndGlyphs">+/+</text>
<text x="461.7" y="470.6" font-size="9.2" fill="#1c1c1c" stroke="#1c1c1c" stroke-width="0.16" text-anchor="middle" textLength="13.8" lengthAdjust="spacingAndGlyphs">+/G</text>
<text x="481.3" y="470.6" font-size="8.8" fill="#1c1c1c" stroke="#1c1c1c" stroke-width="0.16" font-style="italic" textLength="21.2" lengthAdjust="spacingAndGlyphs">Fgf23</text>
<line x1="327.95" y1="475.9" x2="366.55" y2="475.9" stroke="#333" stroke-width="1"/>
<line x1="379.75" y1="475.9" x2="418.35" y2="475.9" stroke="#333" stroke-width="1"/>
<line x1="430.95" y1="475.9" x2="469.55" y2="475.9" stroke="#333" stroke-width="1"/>
<text x="347.25" y="486.6" font-size="9.2" fill="#1c1c1c" stroke="#1c1c1c" stroke-width="0.16" text-anchor="middle" textLength="13.2" lengthAdjust="spacingAndGlyphs">+/+</text>
<text x="399.05" y="486.6" font-size="9.2" fill="#1c1c1c" stroke="#1c1c1c" stroke-width="0.16" text-anchor="middle" textLength="13.2" lengthAdjust="spacingAndGlyphs">+/−</text>
<text x="450.25" y="486.6" font-size="9.2" fill="#1c1c1c" stroke="#1c1c1c" stroke-width="0.16" text-anchor="middle" textLength="13.2" lengthAdjust="spacingAndGlyphs">−/−</text>
<text x="481.7" y="486.6" font-size="8.8" fill="#1c1c1c" stroke="#1c1c1c" stroke-width="0.16" font-style="italic" textLength="30.4" lengthAdjust="spacingAndGlyphs">Tmprss6</text>
<line x1="336.3" y1="369.4" x2="440.2" y2="369.4" stroke="#474747" stroke-width="1.2"/>
<circle cx="386.6" cy="366.4" r="1.12" fill="#222"/>
<circle cx="389.9" cy="366.4" r="1.12" fill="#222"/>
<line x1="439.5" y1="375.3" x2="460.9" y2="375.3" stroke="#474747" stroke-width="1.2"/>
<circle cx="450.2" cy="372.3" r="1.12" fill="#222"/>
<text x="8" y="516.7" font-size="11.9" fill="#111" stroke="#111" stroke-width="0.1" font-weight="bold">G</text>
<text x="54" y="528.8" font-size="10.1" fill="#2a2a2a" textLength="173.5" lengthAdjust="spacingAndGlyphs">Correlation between cFGF23 and EPO</text>
<line x1="61.6" y1="544.2" x2="61.6" y2="649.4" stroke="#1a1a1a" stroke-width="1.15"/>
<line x1="61.1" y1="648.9" x2="219" y2="648.9" stroke="#1a1a1a" stroke-width="1.15"/>
<line x1="58.3" y1="648.7" x2="61.6" y2="648.7" stroke="#1a1a1a" stroke-width="1"/>
<text x="55.2" y="651.2" font-size="8.2" fill="#1c1c1c" stroke="#1c1c1c" stroke-width="0.16" text-anchor="end" textLength="4.8" lengthAdjust="spacingAndGlyphs">0</text>
<line x1="58.3" y1="615" x2="61.6" y2="615" stroke="#1a1a1a" stroke-width="1"/>
<text x="55.2" y="617.5" font-size="8.2" fill="#1c1c1c" stroke="#1c1c1c" stroke-width="0.16" text-anchor="end" textLength="19.2" lengthAdjust="spacingAndGlyphs">1000</text>
<line x1="58.3" y1="581.2" x2="61.6" y2="581.2" stroke="#1a1a1a" stroke-width="1"/>
<text x="55.2" y="583.7" font-size="8.2" fill="#1c1c1c" stroke="#1c1c1c" stroke-width="0.16" text-anchor="end" textLength="19.2" lengthAdjust="spacingAndGlyphs">2000</text>
<line x1="58.3" y1="547.4" x2="61.6" y2="547.4" stroke="#1a1a1a" stroke-width="1"/>
<text x="55.2" y="549.9" font-size="8.2" fill="#1c1c1c" stroke="#1c1c1c" stroke-width="0.16" text-anchor="end" textLength="19.2" lengthAdjust="spacingAndGlyphs">3000</text>
<line x1="61.6" y1="648.9" x2="61.6" y2="651.7" stroke="#1a1a1a" stroke-width="1"/>
<text x="61.6" y="662.6" font-size="8.2" fill="#1c1c1c" stroke="#1c1c1c" stroke-width="0.16" text-anchor="middle" textLength="4.8" lengthAdjust="spacingAndGlyphs">0</text>
<line x1="100.25" y1="648.9" x2="100.25" y2="651.7" stroke="#1a1a1a" stroke-width="1"/>
<text x="100.25" y="662.6" font-size="8.2" fill="#1c1c1c" stroke="#1c1c1c" stroke-width="0.16" text-anchor="middle" textLength="19.2" lengthAdjust="spacingAndGlyphs">1000</text>
<line x1="138.9" y1="648.9" x2="138.9" y2="651.7" stroke="#1a1a1a" stroke-width="1"/>
<text x="138.9" y="662.6" font-size="8.2" fill="#1c1c1c" stroke="#1c1c1c" stroke-width="0.16" text-anchor="middle" textLength="19.2" lengthAdjust="spacingAndGlyphs">2000</text>
<line x1="177.55" y1="648.9" x2="177.55" y2="651.7" stroke="#1a1a1a" stroke-width="1"/>
<text x="177.55" y="662.6" font-size="8.2" fill="#1c1c1c" stroke="#1c1c1c" stroke-width="0.16" text-anchor="middle" textLength="19.2" lengthAdjust="spacingAndGlyphs">3000</text>
<line x1="216.2" y1="648.9" x2="216.2" y2="651.7" stroke="#1a1a1a" stroke-width="1"/>
<text x="216.2" y="662.6" font-size="8.2" fill="#1c1c1c" stroke="#1c1c1c" stroke-width="0.16" text-anchor="middle" textLength="19.2" lengthAdjust="spacingAndGlyphs">4000</text>
<text x="140.2" y="677" font-size="9.3" fill="#1c1c1c" stroke="#1c1c1c" stroke-width="0.26" text-anchor="middle" textLength="64.5" lengthAdjust="spacingAndGlyphs">Serum EPO (pg/mL)</text>
<text x="28.4" y="596.4" font-size="9" fill="#1c1c1c" stroke="#1c1c1c" stroke-width="0.28" text-anchor="middle" textLength="77.5" lengthAdjust="spacingAndGlyphs" transform="rotate(-90 28.4 596.4)">Plasma cFGF23 (pg/mL)</text>
<text x="75.2" y="545" font-size="8.6" fill="#c43b56" stroke="#c43b56" stroke-width="0.12" font-style="italic">R</text>
<text x="81.4" y="542.3" font-size="5.6" fill="#c43b56" stroke="#c43b56" stroke-width="0.1">2</text>
<text x="86" y="545" font-size="8.6" fill="#c43b56" stroke="#c43b56" stroke-width="0.12" textLength="5.6" lengthAdjust="spacingAndGlyphs">=</text>
<text x="94" y="545" font-size="8.6" fill="#c43b56" stroke="#c43b56" stroke-width="0.12" textLength="21" lengthAdjust="spacingAndGlyphs">.9271</text>
<text x="75.2" y="557.5" font-size="8.6" fill="#c43b56" stroke="#c43b56" stroke-width="0.12" font-style="italic">P</text>
<text x="83.6" y="557.5" font-size="8.6" fill="#c43b56" stroke="#c43b56" stroke-width="0.12" textLength="4.4" lengthAdjust="spacingAndGlyphs">&lt;</text>
<text x="89" y="557.5" font-size="8.6" fill="#c43b56" stroke="#c43b56" stroke-width="0.12" textLength="21.6" lengthAdjust="spacingAndGlyphs">.0001</text>
<rect x="174.25" y="566.75" width="3.5" height="3.5" fill="#1d3f77"/>
<rect x="180.75" y="580.55" width="3.5" height="3.5" fill="#1d3f77"/>
<rect x="140.75" y="602.05" width="3.5" height="3.5" fill="#1d3f77"/>
<rect x="109.95" y="610.75" width="3.5" height="3.5" fill="#1d3f77"/>
<rect x="92.75" y="613.75" width="3.5" height="3.5" fill="#1d3f77"/>
<rect x="93.65" y="619.05" width="3.5" height="3.5" fill="#1d3f77"/>
<rect x="92.05" y="626.75" width="3.5" height="3.5" fill="#1d3f77"/>
<rect x="165.3" y="585.4" width="3.6" height="3.6" fill="none" stroke="#244a80" stroke-width="0.9"/>
<rect x="180.7" y="591.9" width="3.6" height="3.6" fill="none" stroke="#244a80" stroke-width="0.9"/>
<rect x="149.9" y="603.9" width="3.6" height="3.6" fill="none" stroke="#244a80" stroke-width="0.9"/>
<rect x="145.9" y="607" width="3.6" height="3.6" fill="none" stroke="#244a80" stroke-width="0.9"/>
<rect x="94.2" y="626.7" width="3.6" height="3.6" fill="none" stroke="#244a80" stroke-width="0.9"/>
<circle cx="64.8" cy="633.3" r="1.9" fill="none" stroke="#244a80" stroke-width="0.9"/>
<path d="M68.2 634.5L70.1 637.9L66.3 637.9Z" fill="none" stroke="#244a80" stroke-width="0.9"/>
<rect x="63.75" y="636.75" width="3.5" height="3.5" fill="#1d3f77"/>
<circle cx="67.5" cy="640" r="1.9" fill="#1d3f77"/>
<rect x="64.25" y="639.75" width="3.5" height="3.5" fill="#1d3f77"/>
<path d="M69 639.9L71 643.5L67 643.5Z" fill="#1d3f77"/>
<circle cx="65.5" cy="643.5" r="1.9" fill="#1d3f77"/>
<rect x="66.25" y="642.75" width="3.5" height="3.5" fill="#1d3f77"/>
<path d="M66.5 642.9L68.5 646.5L64.5 646.5Z" fill="#1d3f77"/>
<rect x="68.25" y="638.75" width="3.5" height="3.5" fill="#1d3f77"/>
<rect x="74.05" y="639.05" width="3.5" height="3.5" fill="#1d3f77"/>
<rect x="76.4" y="638.6" width="3.6" height="3.6" fill="none" stroke="#244a80" stroke-width="0.9"/>
<path d="M82 638L83.9 641.4L80.1 641.4Z" fill="none" stroke="#244a80" stroke-width="0.9"/>
<line x1="67.7" y1="640.2" x2="182.5" y2="582.3" stroke="#d0445c" stroke-width="1"/>
<text x="269" y="516.7" font-size="11.9" fill="#111" stroke="#111" stroke-width="0.1" font-weight="bold">H</text>
<text x="315" y="528.8" font-size="10.1" fill="#2a2a2a" textLength="171" lengthAdjust="spacingAndGlyphs">Correlation between iFGF23 and EPO</text>
<line x1="322.6" y1="544.1" x2="322.6" y2="649.4" stroke="#1a1a1a" stroke-width="1.15"/>
<line x1="322.1" y1="648.9" x2="480" y2="648.9" stroke="#1a1a1a" stroke-width="1.15"/>
<line x1="319.3" y1="648.5" x2="322.6" y2="648.5" stroke="#1a1a1a" stroke-width="1"/>
<text x="316.2" y="651" font-size="8.2" fill="#1c1c1c" stroke="#1c1c1c" stroke-width="0.16" text-anchor="end" textLength="4.8" lengthAdjust="spacingAndGlyphs">0</text>
<line x1="319.3" y1="623.2" x2="322.6" y2="623.2" stroke="#1a1a1a" stroke-width="1"/>
<text x="316.2" y="625.7" font-size="8.2" fill="#1c1c1c" stroke="#1c1c1c" stroke-width="0.16" text-anchor="end" textLength="14.4" lengthAdjust="spacingAndGlyphs">100</text>
<line x1="319.3" y1="597.9" x2="322.6" y2="597.9" stroke="#1a1a1a" stroke-width="1"/>
<text x="316.2" y="600.4" font-size="8.2" fill="#1c1c1c" stroke="#1c1c1c" stroke-width="0.16" text-anchor="end" textLength="14.4" lengthAdjust="spacingAndGlyphs">200</text>
<line x1="319.3" y1="572.6" x2="322.6" y2="572.6" stroke="#1a1a1a" stroke-width="1"/>
<text x="316.2" y="575.1" font-size="8.2" fill="#1c1c1c" stroke="#1c1c1c" stroke-width="0.16" text-anchor="end" textLength="14.4" lengthAdjust="spacingAndGlyphs">300</text>
<line x1="319.3" y1="547.3" x2="322.6" y2="547.3" stroke="#1a1a1a" stroke-width="1"/>
<text x="316.2" y="549.8" font-size="8.2" fill="#1c1c1c" stroke="#1c1c1c" stroke-width="0.16" text-anchor="end" textLength="14.4" lengthAdjust="spacingAndGlyphs">400</text>
<line x1="322.6" y1="648.9" x2="322.6" y2="651.7" stroke="#1a1a1a" stroke-width="1"/>
<text x="322.6" y="662.6" font-size="8.2" fill="#1c1c1c" stroke="#1c1c1c" stroke-width="0.16" text-anchor="middle" textLength="4.8" lengthAdjust="spacingAndGlyphs">0</text>
<line x1="361.25" y1="648.9" x2="361.25" y2="651.7" stroke="#1a1a1a" stroke-width="1"/>
<text x="361.25" y="662.6" font-size="8.2" fill="#1c1c1c" stroke="#1c1c1c" stroke-width="0.16" text-anchor="middle" textLength="19.2" lengthAdjust="spacingAndGlyphs">1000</text>
<line x1="399.9" y1="648.9" x2="399.9" y2="651.7" stroke="#1a1a1a" stroke-width="1"/>
<text x="399.9" y="662.6" font-size="8.2" fill="#1c1c1c" stroke="#1c1c1c" stroke-width="0.16" text-anchor="middle" textLength="19.2" lengthAdjust="spacingAndGlyphs">2000</text>
<line x1="438.55" y1="648.9" x2="438.55" y2="651.7" stroke="#1a1a1a" stroke-width="1"/>
<text x="438.55" y="662.6" font-size="8.2" fill="#1c1c1c" stroke="#1c1c1c" stroke-width="0.16" text-anchor="middle" textLength="19.2" lengthAdjust="spacingAndGlyphs">3000</text>
<line x1="477.2" y1="648.9" x2="477.2" y2="651.7" stroke="#1a1a1a" stroke-width="1"/>
<text x="477.2" y="662.6" font-size="8.2" fill="#1c1c1c" stroke="#1c1c1c" stroke-width="0.16" text-anchor="middle" textLength="19.2" lengthAdjust="spacingAndGlyphs">4000</text>
<text x="401.2" y="677" font-size="9.3" fill="#1c1c1c" stroke="#1c1c1c" stroke-width="0.26" text-anchor="middle" textLength="64.5" lengthAdjust="spacingAndGlyphs">Serum EPO (pg/mL)</text>
<text x="295.4" y="596.4" font-size="9" fill="#1c1c1c" stroke="#1c1c1c" stroke-width="0.28" text-anchor="middle" textLength="76" lengthAdjust="spacingAndGlyphs" transform="rotate(-90 295.4 596.4)">Plasma iFGF23 (pg/mL)</text>
<text x="336.2" y="545" font-size="8.6" fill="#c43b56" stroke="#c43b56" stroke-width="0.12" font-style="italic">R</text>
<text x="342.4" y="542.3" font-size="5.6" fill="#c43b56" stroke="#c43b56" stroke-width="0.1">2</text>
<text x="347" y="545" font-size="8.6" fill="#c43b56" stroke="#c43b56" stroke-width="0.12" textLength="5.6" lengthAdjust="spacingAndGlyphs">=</text>
<text x="355" y="545" font-size="8.6" fill="#c43b56" stroke="#c43b56" stroke-width="0.12" textLength="21" lengthAdjust="spacingAndGlyphs">.3858</text>
<text x="336.2" y="557.5" font-size="8.6" fill="#c43b56" stroke="#c43b56" stroke-width="0.12" font-style="italic">P</text>
<text x="343.7" y="557.5" font-size="8.6" fill="#c43b56" stroke="#c43b56" stroke-width="0.12" textLength="5.4" lengthAdjust="spacingAndGlyphs">=</text>
<text x="351.2" y="557.5" font-size="8.6" fill="#c43b56" stroke="#c43b56" stroke-width="0.12" textLength="22.2" lengthAdjust="spacingAndGlyphs">.0003</text>
<rect x="409.9" y="552" width="3.6" height="3.6" fill="none" stroke="#244a80" stroke-width="0.9"/>
<path d="M330.8 560.2L332.7 563.6L328.9 563.6Z" fill="none" stroke="#244a80" stroke-width="0.9"/>
<rect x="425.9" y="571.4" width="3.6" height="3.6" fill="none" stroke="#244a80" stroke-width="0.9"/>
<rect x="441.35" y="568.45" width="3.5" height="3.5" fill="#1d3f77"/>
<rect x="441.3" y="573.9" width="3.6" height="3.6" fill="none" stroke="#244a80" stroke-width="0.9"/>
<rect x="406.5" y="575.1" width="3.6" height="3.6" fill="none" stroke="#244a80" stroke-width="0.9"/>
<circle cx="326.8" cy="577.5" r="1.9" fill="none" stroke="#244a80" stroke-width="0.9"/>
<rect x="352.75" y="579.15" width="3.5" height="3.5" fill="#1d3f77"/>
<rect x="434.55" y="585.95" width="3.5" height="3.5" fill="#1d3f77"/>
<path d="M337.8 586.6L339.7 590L335.9 590Z" fill="none" stroke="#244a80" stroke-width="0.9"/>
<circle cx="355.4" cy="591.2" r="1.9" fill="#1d3f77"/>
<circle cx="355.8" cy="592.8" r="1.9" fill="#1d3f77"/>
<circle cx="326.8" cy="596" r="1.9" fill="none" stroke="#244a80" stroke-width="0.9"/>
<rect x="354.5" y="595.1" width="3.6" height="3.6" fill="none" stroke="#244a80" stroke-width="0.9"/>
<rect x="401.25" y="592.05" width="3.5" height="3.5" fill="#1d3f77"/>
<rect x="327.75" y="598.25" width="3.5" height="3.5" fill="#1d3f77"/>
<circle cx="331" cy="599" r="1.9" fill="#1d3f77"/>
<path d="M342.2 602L344.1 605.4L340.3 605.4Z" fill="none" stroke="#244a80" stroke-width="0.9"/>
<rect x="370.55" y="602.25" width="3.5" height="3.5" fill="#1d3f77"/>
<rect x="324.75" y="599.75" width="3.5" height="3.5" fill="#1d3f77"/>
<path d="M326.5 606.2L328.5 608.5L326.5 610.8L324.5 608.5Z" fill="none" stroke="#244a80" stroke-width="0.9"/>
<path d="M327.5 608.7L329.5 611L327.5 613.3L325.5 611Z" fill="none" stroke="#244a80" stroke-width="0.9"/>
<circle cx="328.6" cy="612.3" r="1.9" fill="#1d3f77"/>
<path d="M337 610.2L339 613.8L335 613.8Z" fill="#1d3f77"/>
<path d="M328.6 613.3L330.6 616.9L326.6 616.9Z" fill="#1d3f77"/>
<circle cx="337" cy="616" r="1.9" fill="#1d3f77"/>
<line x1="329.2" y1="600.9" x2="443.1" y2="571.7" stroke="#d0445c" stroke-width="1"/>
<text x="128.9" y="15.9" font-size="10" fill="#222" stroke="#222" stroke-width="0.15" textLength="20.5" lengthAdjust="spacingAndGlyphs">Male</text>
<text x="384.7" y="15.9" font-size="10" fill="#222" stroke="#222" stroke-width="0.15" textLength="30.2" lengthAdjust="spacingAndGlyphs">Female</text>
<rect x="0" y="0" width="520" height="1.1" fill="#4c4c4c"/>
<rect x="0" y="0" width="1.3" height="687" fill="#3a3a3a"/>
<rect x="518.9" y="0" width="1.1" height="687" fill="#262626"/>
<rect x="0" y="685.9" width="520" height="1.1" fill="#2e2e2e"/>
</svg>
</body></html>
